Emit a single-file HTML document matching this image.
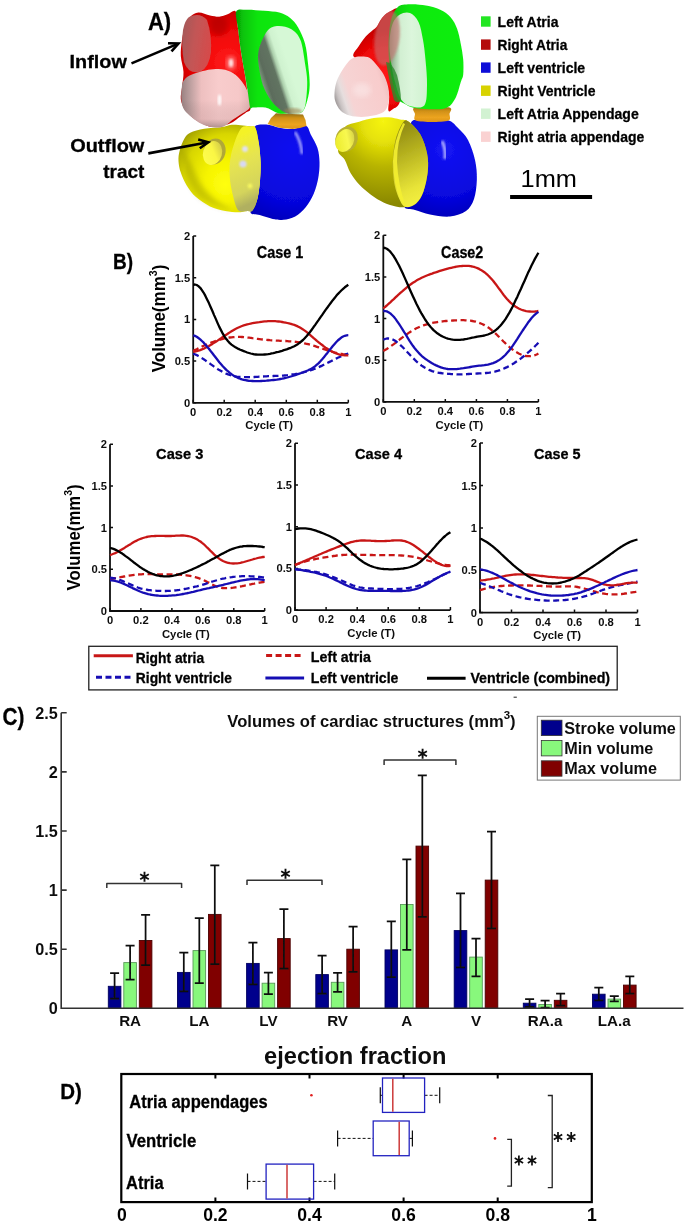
<!DOCTYPE html>
<html><head><meta charset="utf-8"><style>
html,body{margin:0;padding:0;background:#fff;}
body{width:685px;height:1225px;overflow:hidden;position:relative;font-family:"Liberation Sans", sans-serif;}
svg{position:absolute;left:0;top:0;}
text{font-family:"Liberation Sans", sans-serif;}
</style></head><body>
<svg width="685" height="1225" viewBox="0 0 685 1225">
<defs>
<radialGradient id="gYel1" cx="228" cy="175" r="58" fx="225" fy="185" gradientUnits="userSpaceOnUse">
 <stop offset="0" stop-color="#ffff10"/><stop offset="0.35" stop-color="#f6f400"/><stop offset="0.75" stop-color="#d8d600"/><stop offset="1" stop-color="#a09e00"/></radialGradient>
<linearGradient id="gTr1" x1="230" y1="140" x2="258" y2="200" gradientUnits="userSpaceOnUse">
 <stop offset="0" stop-color="#f4f228"/><stop offset="0.35" stop-color="#e6e450"/><stop offset="0.8" stop-color="#d4d45c"/><stop offset="1" stop-color="#b0b060"/></linearGradient>
<radialGradient id="gBlu1" cx="292" cy="150" r="75" gradientUnits="userSpaceOnUse">
 <stop offset="0" stop-color="#1010f0"/><stop offset="0.7" stop-color="#0606dc"/><stop offset="1" stop-color="#0000b8"/></radialGradient>
<linearGradient id="gOr" x1="0" y1="0" x2="0" y2="1">
 <stop offset="0" stop-color="#8a6a18"/><stop offset="0.3" stop-color="#d09018"/><stop offset="0.7" stop-color="#eca420"/><stop offset="1" stop-color="#dc9418"/></linearGradient>
<radialGradient id="gRed1" cx="228" cy="62" r="52" gradientUnits="userSpaceOnUse">
 <stop offset="0" stop-color="#ff1a1a"/><stop offset="0.55" stop-color="#f00808"/><stop offset="1" stop-color="#c80000"/></radialGradient>
<radialGradient id="gRed2" cx="385" cy="75" r="45" gradientUnits="userSpaceOnUse">
 <stop offset="0" stop-color="#ff1a1a"/><stop offset="0.6" stop-color="#f00808"/><stop offset="1" stop-color="#c80000"/></radialGradient>
<linearGradient id="gDark1" x1="0" y1="0" x2="1" y2="0.3">
 <stop offset="0" stop-color="#a05a5a"/><stop offset="0.5" stop-color="#c25656"/><stop offset="1" stop-color="#d44c4c"/></linearGradient>
<linearGradient id="gPink1" x1="181" y1="0" x2="249" y2="0" gradientUnits="userSpaceOnUse">
 <stop offset="0" stop-color="#988080"/><stop offset="0.12" stop-color="#b89c9c"/><stop offset="0.3" stop-color="#eec0c0"/><stop offset="0.55" stop-color="#f8cccc"/><stop offset="0.85" stop-color="#f6c8c8"/><stop offset="1" stop-color="#e4b4b4"/></linearGradient>
<linearGradient id="gPinkB" x1="0" y1="100" x2="0" y2="127" gradientUnits="userSpaceOnUse">
 <stop offset="0" stop-color="#000" stop-opacity="0"/><stop offset="0.7" stop-color="#806060" stop-opacity="0.12"/><stop offset="1" stop-color="#605050" stop-opacity="0.45"/></linearGradient>
<linearGradient id="gGrn1" x1="0" y1="0" x2="1" y2="0">
 <stop offset="0" stop-color="#04a004"/><stop offset="0.1" stop-color="#08c408"/><stop offset="0.3" stop-color="#10e410"/><stop offset="1" stop-color="#10f010"/></linearGradient>
<linearGradient id="gLg1" x1="262" y1="80" x2="290.5" y2="70.6" gradientUnits="userSpaceOnUse">
 <stop offset="0" stop-color="#7a907a"/><stop offset="0.15" stop-color="#5c6c5c"/><stop offset="0.5" stop-color="#627462"/><stop offset="0.62" stop-color="#accfac"/><stop offset="0.74" stop-color="#cff2cf"/><stop offset="1" stop-color="#d6f8d6"/></linearGradient>
<radialGradient id="gYel2" cx="385" cy="126" r="78" fx="383" fy="121" gradientUnits="userSpaceOnUse">
 <stop offset="0" stop-color="#f6f412"/><stop offset="0.25" stop-color="#e6e208"/><stop offset="0.55" stop-color="#b8b400"/><stop offset="1" stop-color="#8a8800"/></radialGradient>
<linearGradient id="gTr2" x1="392" y1="125" x2="428" y2="200" gradientUnits="userSpaceOnUse">
 <stop offset="0" stop-color="#8a8410"/><stop offset="0.4" stop-color="#b8b420"/><stop offset="0.8" stop-color="#e8e438"/><stop offset="1" stop-color="#f4f040"/></linearGradient>
<radialGradient id="gBlu2" cx="445" cy="150" r="70" gradientUnits="userSpaceOnUse">
 <stop offset="0" stop-color="#1414f4"/><stop offset="0.7" stop-color="#0606dc"/><stop offset="1" stop-color="#0000b8"/></radialGradient>
<linearGradient id="gPink2" x1="335" y1="100" x2="389" y2="82" gradientUnits="userSpaceOnUse">
 <stop offset="0" stop-color="#a09a9a"/><stop offset="0.07" stop-color="#c8c2c2"/><stop offset="0.16" stop-color="#e6dede"/><stop offset="0.28" stop-color="#f6d4d4"/><stop offset="0.85" stop-color="#f8cccc"/><stop offset="1" stop-color="#eebcbc"/></linearGradient>
<linearGradient id="gGrn2" x1="0" y1="0" x2="1" y2="0">
 <stop offset="0" stop-color="#06a006"/><stop offset="0.12" stop-color="#0cd00c"/><stop offset="0.3" stop-color="#10ea10"/><stop offset="1" stop-color="#10ee10"/></linearGradient>
<linearGradient id="gLg2" x1="389" y1="0" x2="427" y2="0" gradientUnits="userSpaceOnUse">
 <stop offset="0" stop-color="#78a078"/><stop offset="0.14" stop-color="#a4c6a4"/><stop offset="0.3" stop-color="#d2efd2"/><stop offset="0.6" stop-color="#dcf6dc"/><stop offset="1" stop-color="#d0f2d0"/></linearGradient>
<linearGradient id="gOt" x1="0" y1="1" x2="1" y2="0">
 <stop offset="0" stop-color="#ffff50"/><stop offset="0.55" stop-color="#faf644"/><stop offset="1" stop-color="#c4bc48"/></linearGradient>
<linearGradient id="gOt2" x1="0" y1="1" x2="1" y2="0">
 <stop offset="0" stop-color="#e8e820"/><stop offset="0.6" stop-color="#f8f850"/><stop offset="1" stop-color="#c8c040"/></linearGradient>
<filter id="blur1"><feGaussianBlur stdDeviation="1.2"/></filter>
<filter id="blur2"><feGaussianBlur stdDeviation="2.5"/></filter>
<filter id="blur3"><feGaussianBlur stdDeviation="4"/></filter>
</defs>
<defs><filter id="soft" x="0" y="0" width="685" height="1225" filterUnits="userSpaceOnUse"><feGaussianBlur stdDeviation="0.45"/></filter></defs>
<g filter="url(#soft)">
<path d="M254.5,127.1 C255.8,124.0 262.2,124.4 266.3,124.5 C270.4,124.6 275.0,127.0 279.4,127.7 C283.8,128.4 288.2,129.3 292.6,129.0 C297.0,128.7 302.6,124.8 305.7,125.8 C308.8,126.8 309.0,131.3 311.0,135.0 C313.0,138.7 316.1,143.5 317.5,148.1 C318.9,152.7 319.4,157.6 319.5,162.6 C319.6,167.6 319.2,173.1 318.2,178.3 C317.2,183.6 315.7,189.3 313.6,194.1 C311.5,198.9 308.8,203.5 305.7,207.2 C302.6,210.9 298.9,214.3 295.2,216.4 C291.5,218.5 287.1,219.3 283.4,219.7 C279.7,220.1 276.8,219.8 272.8,219.0 C268.9,218.2 263.4,216.2 259.7,215.1 C256.0,214.0 250.9,215.1 250.5,212.5 C250.1,209.9 255.6,204.3 257.1,199.3 C258.6,194.3 259.1,188.4 259.7,182.3 C260.2,176.2 260.6,169.2 260.4,162.6 C260.2,156.0 259.4,148.7 258.4,142.8 C257.4,136.9 253.2,130.2 254.5,127.1Z" fill="url(#gBlu1)" />
<path d="M295,132 Q301,141 302,154" stroke="#b4b4ff" stroke-width="2.6" fill="none" opacity="0.9" filter="url(#blur1)"/>
<path d="M190.2,132.8 C193.5,131.2 198.9,129.8 204.2,128.8 C209.4,127.8 216.8,127.7 221.7,127.0 C226.6,126.3 228.5,124.8 233.4,124.7 C238.3,124.6 247.2,125.9 250.9,126.4 C254.6,127.0 254.2,125.3 255.5,128.0 C256.8,130.7 257.9,137.0 258.8,142.8 C259.7,148.6 260.4,156.0 260.6,162.6 C260.8,169.2 260.4,176.2 259.9,182.3 C259.3,188.4 258.5,194.6 257.3,199.3 C256.1,204.0 254.2,208.6 252.5,210.5 C250.8,212.4 249.8,210.7 247.4,211.0 C245.0,211.3 241.7,212.3 238.0,212.3 C234.3,212.3 229.9,212.1 225.2,211.1 C220.5,210.1 214.9,208.7 210.0,206.4 C205.1,204.1 199.9,200.6 196.0,197.1 C192.1,193.6 189.2,189.5 186.7,185.4 C184.2,181.3 182.2,176.7 180.8,172.6 C179.4,168.5 178.7,164.6 178.5,160.9 C178.3,157.2 178.7,154.1 179.7,150.4 C180.7,146.7 182.6,141.6 184.3,138.7 C186.1,135.8 186.9,134.5 190.2,132.8Z" fill="url(#gYel1)" />
<path d="M183,150 Q182,180 200,198 Q215,208 232,210 Q205,196 196,175 Q190,160 183,150Z" fill="#8a8800" opacity="0.35" filter="url(#blur2)"/>
<path d="M240.4,129.3 C243.7,124.5 248.4,126.6 250.9,126.4 C253.4,126.2 254.2,125.3 255.5,128.0 C256.8,130.7 257.9,137.0 258.8,142.8 C259.7,148.6 260.4,156.0 260.6,162.6 C260.8,169.2 260.4,176.2 259.9,182.3 C259.3,188.4 258.5,194.6 257.3,199.3 C256.1,204.0 254.2,208.6 252.5,210.5 C250.8,212.4 249.6,210.9 247.4,211.0 C245.2,211.1 241.3,212.5 239.2,211.0 C237.1,209.5 236.1,207.2 234.6,201.8 C233.1,196.4 230.5,186.2 229.9,178.4 C229.3,170.6 229.2,163.2 231.0,155.0 C232.8,146.8 237.1,134.1 240.4,129.3Z" fill="url(#gTr1)" />
<g filter="url(#blur1)" opacity="0.95"><circle cx="245" cy="149" r="3" fill="#e0e0ff"/><circle cx="243" cy="164" r="3.6" fill="#d8d8ff"/><circle cx="250" cy="186" r="2.4" fill="#f8f860"/></g>
<ellipse cx="214.5" cy="151.5" rx="11" ry="13.2" transform="rotate(15 214.5 151.5)" fill="#b0a838"/>
<ellipse cx="212.5" cy="153" rx="9.5" ry="12.2" transform="rotate(15 212.5 153)" fill="url(#gOt)"/>
<path d="M276,113.2 L303,114.5 L305.5,120 L306.5,126 Q299,129 292.6,129 L279.4,127.7 L267.6,124 L271,118 Z" fill="url(#gOr)"/>
<path d="M190.2,16.7 C192.3,14.8 195.1,12.8 198.4,12.6 C201.7,12.4 206.5,14.8 210.0,15.5 C213.5,16.2 216.5,16.9 219.4,16.7 C222.3,16.5 224.9,15.2 227.6,14.3 C230.3,13.4 234.0,9.1 235.7,11.4 C237.4,13.8 237.1,21.7 238.0,28.4 C238.9,35.1 239.8,43.9 241.0,51.7 C242.2,59.5 243.9,68.3 245.0,75.0 C246.1,81.7 246.6,86.4 247.5,92.0 C248.4,97.6 250.8,105.1 250.5,108.5 C250.2,111.9 247.7,111.2 246.0,112.5 C244.3,113.8 243.1,114.6 240.4,116.4 C237.7,118.2 234.4,121.7 229.9,123.4 C225.4,125.2 217.8,126.7 213.5,126.9 C209.2,127.1 207.7,126.1 204.2,124.6 C200.7,123.0 195.8,120.3 192.5,117.6 C189.2,114.9 186.2,111.3 184.3,108.2 C182.4,105.1 181.2,102.4 180.8,98.9 C180.4,95.4 181.6,91.7 182.0,87.2 C182.4,82.7 183.7,77.2 183.5,72.0 C183.3,66.8 181.1,61.3 180.8,56.0 C180.6,50.7 181.2,45.4 182.0,40.0 C182.8,34.6 184.1,27.6 185.5,23.7 C186.9,19.8 188.0,18.6 190.2,16.7Z" fill="url(#gRed1)" />
<clipPath id="cR1"><path d="M190.2,16.7 C192.3,14.8 195.1,12.8 198.4,12.6 C201.7,12.4 206.5,14.8 210.0,15.5 C213.5,16.2 216.5,16.9 219.4,16.7 C222.3,16.5 224.9,15.2 227.6,14.3 C230.3,13.4 234.0,9.1 235.7,11.4 C237.4,13.8 237.1,21.7 238.0,28.4 C238.9,35.1 239.8,43.9 241.0,51.7 C242.2,59.5 243.9,68.3 245.0,75.0 C246.1,81.7 246.6,86.4 247.5,92.0 C248.4,97.6 250.8,105.1 250.5,108.5 C250.2,111.9 247.7,111.2 246.0,112.5 C244.3,113.8 243.1,114.6 240.4,116.4 C237.7,118.2 234.4,121.7 229.9,123.4 C225.4,125.2 217.8,126.7 213.5,126.9 C209.2,127.1 207.7,126.1 204.2,124.6 C200.7,123.0 195.8,120.3 192.5,117.6 C189.2,114.9 186.2,111.3 184.3,108.2 C182.4,105.1 181.2,102.4 180.8,98.9 C180.4,95.4 181.6,91.7 182.0,87.2 C182.4,82.7 183.7,77.2 183.5,72.0 C183.3,66.8 181.1,61.3 180.8,56.0 C180.6,50.7 181.2,45.4 182.0,40.0 C182.8,34.6 184.1,27.6 185.5,23.7 C186.9,19.8 188.0,18.6 190.2,16.7Z"/></clipPath>
<g clip-path="url(#cR1)"><ellipse cx="219" cy="26" rx="9" ry="10" fill="#a80000" opacity="0.55" filter="url(#blur2)"/></g>
<path d="M189,17 Q200,12 207,20 Q212,35 211,52 Q209,68 200,72 Q188,74 184,62 Q181,45 183,30 Q185,20 189,17Z" fill="url(#gDark1)"/>
<g clip-path="url(#cR1)"><ellipse cx="231" cy="63" rx="4.5" ry="7" fill="#ffb0b0" opacity="0.7" filter="url(#blur2)"/><ellipse cx="231" cy="63" rx="2" ry="4" fill="#fff" opacity="0.8" filter="url(#blur1)"/></g>
<path d="M181.8,88.0 C182.1,85.4 181.8,83.6 183.1,81.5 C184.4,79.4 186.4,77.2 189.7,75.5 C193.0,73.8 198.9,72.0 202.8,71.0 C206.8,70.0 209.7,69.4 213.4,69.2 C217.1,69.0 221.5,68.8 225.2,69.8 C228.9,70.8 232.6,72.5 235.7,74.9 C238.8,77.3 241.4,80.7 243.6,84.0 C245.8,87.3 247.7,91.3 248.8,94.6 C249.9,97.9 250.1,101.4 250.1,103.8 C250.1,106.2 250.3,107.2 248.8,109.0 C247.3,110.8 243.6,112.5 241.0,114.3 C238.4,116.1 235.4,117.8 233.0,119.6 C230.6,121.3 228.7,123.5 226.5,124.8 C224.3,126.1 222.8,127.1 220.0,127.4 C217.2,127.7 212.9,127.2 209.4,126.4 C205.9,125.6 202.2,124.2 198.9,122.4 C195.6,120.6 192.3,118.0 189.7,115.6 C187.1,113.1 184.5,110.8 183.1,107.7 C181.7,104.6 181.4,100.5 181.2,97.2 C181.0,93.9 181.5,90.6 181.8,88.0Z" fill="url(#gPink1)" />
<path d="M181.8,88.0 C182.1,85.4 181.8,83.6 183.1,81.5 C184.4,79.4 186.4,77.2 189.7,75.5 C193.0,73.8 198.9,72.0 202.8,71.0 C206.8,70.0 209.7,69.4 213.4,69.2 C217.1,69.0 221.5,68.8 225.2,69.8 C228.9,70.8 232.6,72.5 235.7,74.9 C238.8,77.3 241.4,80.7 243.6,84.0 C245.8,87.3 247.7,91.3 248.8,94.6 C249.9,97.9 250.1,101.4 250.1,103.8 C250.1,106.2 250.3,107.2 248.8,109.0 C247.3,110.8 243.6,112.5 241.0,114.3 C238.4,116.1 235.4,117.8 233.0,119.6 C230.6,121.3 228.7,123.5 226.5,124.8 C224.3,126.1 222.8,127.1 220.0,127.4 C217.2,127.7 212.9,127.2 209.4,126.4 C205.9,125.6 202.2,124.2 198.9,122.4 C195.6,120.6 192.3,118.0 189.7,115.6 C187.1,113.1 184.5,110.8 183.1,107.7 C181.7,104.6 181.4,100.5 181.2,97.2 C181.0,93.9 181.5,90.6 181.8,88.0Z" fill="url(#gPinkB)" />
<ellipse cx="219.5" cy="100" rx="1.8" ry="5.5" fill="#fff" opacity="0.9" filter="url(#blur1)"/>
<path d="M236.2,11.4 C237.6,8.3 242.0,9.8 246.7,9.7 C251.4,9.6 258.8,10.3 264.2,10.8 C269.6,11.3 275.1,11.4 279.4,12.6 C283.7,13.8 286.8,15.4 289.9,17.8 C293.0,20.2 295.5,22.9 298.0,27.2 C300.5,31.5 303.3,37.5 305.0,43.5 C306.7,49.5 307.2,56.5 308.0,63.4 C308.8,70.3 309.8,78.9 309.7,85.0 C309.6,91.1 308.7,95.5 307.4,100.0 C306.1,104.5 304.9,109.8 302.0,112.0 C299.1,114.2 294.0,113.1 290.0,113.3 C286.0,113.5 282.3,114.2 278.2,113.2 C274.1,112.2 269.7,108.5 265.4,107.6 C261.1,106.7 255.0,107.4 252.5,107.6 C250.0,107.8 251.1,111.4 250.3,108.5 C249.5,105.6 248.4,95.6 247.5,90.0 C246.6,84.4 246.1,81.4 245.0,75.0 C243.9,68.6 242.2,59.5 241.0,51.7 C239.8,43.9 238.8,35.1 238.0,28.4 C237.2,21.7 234.8,14.5 236.2,11.4Z" fill="url(#gGrn1)" />
<path d="M277.0,26.0 C272.9,26.5 269.6,27.6 266.5,31.9 C263.4,36.2 259.6,45.3 258.4,51.7 C257.2,58.1 258.6,64.4 259.5,70.4 C260.4,76.5 261.8,82.6 264.0,88.0 C266.2,93.4 269.7,99.0 273.0,103.0 C276.3,107.0 280.7,110.2 284.0,112.0 C287.3,113.8 290.1,114.0 293.0,114.0 C295.9,114.0 299.5,113.7 301.6,112.0 C303.7,110.3 304.6,109.0 305.5,104.0 C306.4,99.0 307.3,88.5 307.2,81.7 C307.1,74.9 306.1,70.3 305.0,63.4 C303.9,56.4 302.7,45.7 300.4,40.0 C298.1,34.3 294.9,31.3 291.0,29.0 C287.1,26.7 281.1,25.5 277.0,26.0Z" fill="url(#gLg1)" />
<ellipse cx="293" cy="111" rx="9" ry="3" fill="#a08858" opacity="0.6" filter="url(#blur1)"/>
<path d="M411.7,121.5 C414.7,118.1 423.9,119.7 430.0,119.5 C436.1,119.3 443.8,119.1 448.5,120.5 C453.2,121.9 454.8,124.8 458.0,128.0 C461.2,131.2 465.2,134.7 468.0,140.0 C470.8,145.3 473.5,153.3 475.0,160.0 C476.5,166.7 477.0,173.5 476.8,180.0 C476.6,186.5 475.8,193.8 474.0,199.0 C472.2,204.2 470.0,208.1 466.0,211.0 C462.0,213.9 456.0,215.9 450.0,216.5 C444.0,217.1 435.8,215.6 430.0,214.5 C424.2,213.4 419.3,211.3 415.0,210.0 C410.7,208.7 405.2,210.1 404.4,206.8 C403.6,203.5 408.4,197.0 410.0,190.0 C411.6,183.0 413.7,173.3 414.0,165.0 C414.3,156.7 412.4,147.2 412.0,140.0 C411.6,132.8 408.7,124.9 411.7,121.5Z" fill="url(#gBlu2)" />
<path d="M442,141 Q446,149 445,159" stroke="#c0c0ff" stroke-width="3" fill="none" opacity="0.9" filter="url(#blur1)"/>
<path d="M338.0,150.0 C337.9,144.7 340.5,132.7 344.0,128.0 C347.5,123.3 354.2,123.4 359.2,121.7 C364.2,120.0 368.9,118.7 373.8,118.0 C378.7,117.3 384.0,117.0 388.4,117.3 C392.8,117.5 396.6,118.8 400.0,119.5 C403.4,120.2 405.4,119.2 408.8,121.7 C412.2,124.2 417.4,129.5 420.5,134.8 C423.6,140.2 425.9,147.7 427.1,153.8 C428.3,159.9 428.4,165.0 427.8,171.3 C427.2,177.6 425.3,186.5 423.4,191.8 C421.4,197.2 419.0,200.9 416.1,203.4 C413.2,205.9 409.3,206.6 405.9,207.1 C402.5,207.6 399.3,207.1 395.7,206.4 C392.1,205.7 388.1,204.6 384.0,202.7 C379.9,200.8 375.0,197.7 370.9,194.7 C366.8,191.7 362.6,188.2 359.2,184.5 C355.8,180.8 352.8,177.0 350.4,172.8 C348.0,168.7 346.7,163.4 344.6,159.6 C342.5,155.8 338.1,155.3 338.0,150.0Z" fill="url(#gYel2)" />
<path d="M403.0,122.4 C405.2,119.5 405.9,119.6 408.8,121.7 C411.7,123.8 417.4,129.5 420.5,134.8 C423.6,140.2 425.9,147.7 427.1,153.8 C428.3,159.9 428.4,165.0 427.8,171.3 C427.2,177.6 425.3,186.5 423.4,191.8 C421.4,197.2 419.0,200.9 416.1,203.4 C413.2,205.9 408.6,207.6 405.9,207.1 C403.2,206.6 401.9,204.5 400.0,200.5 C398.1,196.5 395.4,189.6 394.2,183.0 C393.0,176.4 392.6,168.4 392.8,161.1 C393.1,153.8 394.0,145.6 395.7,139.2 C397.4,132.8 400.8,125.3 403.0,122.4Z" fill="url(#gTr2)" />
<path d="M403,123 Q394,140 393,161 Q393,184 401,201 Q405,206 406,207 Q398,185 397,162 Q397,140 405,124Z" fill="#f4f030" opacity="0.9"/>
<ellipse cx="346.5" cy="139.2" rx="11" ry="13" transform="rotate(25 346.5 139.2)" fill="#b8b030"/>
<ellipse cx="344.8" cy="140.5" rx="9" ry="11.8" transform="rotate(25 344.8 140.5)" fill="url(#gOt2)"/>
<path d="M415.8,107.2 C421.4,106.1 442.9,106.1 448.5,107.2 C454.1,108.3 449.5,111.8 449.5,114.0 C449.5,116.2 451.4,119.2 448.5,120.5 C445.6,121.8 437.4,122.0 432.0,122.0 C426.6,122.0 418.6,121.8 415.8,120.5 C413.0,119.2 415.0,116.2 415.0,114.0 C415.0,111.8 410.2,108.3 415.8,107.2Z" fill="url(#gOr)" />
<path d="M397.0,8.5 C395.8,7.8 393.8,9.5 391.8,10.5 C389.8,11.5 387.2,12.8 385.2,14.5 C383.2,16.2 381.4,18.9 380.0,21.0 C378.6,23.1 378.2,25.1 376.5,27.0 C374.8,28.9 371.8,30.9 370.0,32.5 C368.2,34.1 367.4,34.5 365.5,36.8 C363.6,39.0 360.9,42.7 358.9,46.0 C356.9,49.3 351.8,53.7 353.6,56.5 C355.5,59.3 364.9,59.1 370.0,63.0 C375.1,66.9 380.8,74.7 384.0,80.0 C387.2,85.3 388.3,89.9 389.0,95.0 C389.7,100.1 387.7,108.3 388.4,110.6 C389.1,112.9 391.1,110.3 393.0,109.0 C394.9,107.7 398.1,107.3 399.6,102.5 C401.1,97.7 401.8,90.4 402.0,80.0 C402.2,69.6 401.5,50.8 401.0,40.0 C400.5,29.2 399.7,20.2 399.0,15.0 C398.3,9.8 398.2,9.2 397.0,8.5Z" fill="url(#gRed2)" />
<path d="M397.4,7.4 C400.7,4.0 405.0,4.6 409.8,4.3 C414.6,4.0 420.8,4.7 426.0,5.6 C431.2,6.5 436.7,7.9 440.8,9.9 C444.9,11.9 448.1,14.3 450.8,17.4 C453.5,20.5 455.4,24.2 457.0,28.5 C458.6,32.8 459.7,38.2 460.7,43.4 C461.7,48.6 462.8,54.4 463.2,59.6 C463.6,64.8 463.6,70.8 463.2,74.5 C462.8,78.2 462.2,77.9 460.8,82.0 C459.4,86.1 457.7,94.6 455.0,99.0 C452.3,103.4 450.6,106.8 444.4,108.4 C438.2,110.0 424.5,109.1 417.9,108.4 C411.3,107.7 408.6,106.2 405.0,104.0 C401.4,101.8 398.7,102.3 396.0,95.0 C393.3,87.7 390.0,71.7 389.0,60.0 C388.0,48.3 388.6,33.8 390.0,25.0 C391.4,16.2 394.1,10.8 397.4,7.4Z" fill="url(#gGrn2)" />
<path d="M399.9,14.5 C402.8,12.7 406.9,11.8 410.0,13.0 C413.1,14.2 416.3,17.5 418.5,22.0 C420.7,26.5 421.8,33.7 423.0,40.0 C424.2,46.3 424.8,52.5 425.5,60.0 C426.2,67.5 427.2,77.5 427.0,85.0 C426.8,92.5 427.1,101.6 424.5,105.2 C421.9,108.8 415.5,107.4 411.7,106.5 C407.9,105.6 404.3,104.1 401.5,100.0 C398.7,95.9 396.8,88.3 395.0,82.0 C393.2,75.7 391.9,68.7 391.0,62.0 C390.1,55.3 389.2,48.3 389.5,42.0 C389.8,35.7 390.8,28.6 392.5,24.0 C394.2,19.4 397.0,16.3 399.9,14.5Z" fill="url(#gLg2)" />
<clipPath id="cRG2"><path d="M397.0,8.5 C395.8,7.8 393.8,9.5 391.8,10.5 C389.8,11.5 387.2,12.8 385.2,14.5 C383.2,16.2 381.4,18.9 380.0,21.0 C378.6,23.1 378.2,25.1 376.5,27.0 C374.8,28.9 371.8,30.9 370.0,32.5 C368.2,34.1 367.4,34.5 365.5,36.8 C363.6,39.0 360.9,42.7 358.9,46.0 C356.9,49.3 351.8,53.7 353.6,56.5 C355.5,59.3 364.9,59.1 370.0,63.0 C375.1,66.9 380.8,74.7 384.0,80.0 C387.2,85.3 388.3,89.9 389.0,95.0 C389.7,100.1 387.7,108.3 388.4,110.6 C389.1,112.9 391.1,110.3 393.0,109.0 C394.9,107.7 398.1,107.3 399.6,102.5 C401.1,97.7 401.8,90.4 402.0,80.0 C402.2,69.6 401.5,50.8 401.0,40.0 C400.5,29.2 399.7,20.2 399.0,15.0 C398.3,9.8 398.2,9.2 397.0,8.5Z"/><path d="M397.4,7.4 C400.7,4.0 405.0,4.6 409.8,4.3 C414.6,4.0 420.8,4.7 426.0,5.6 C431.2,6.5 436.7,7.9 440.8,9.9 C444.9,11.9 448.1,14.3 450.8,17.4 C453.5,20.5 455.4,24.2 457.0,28.5 C458.6,32.8 459.7,38.2 460.7,43.4 C461.7,48.6 462.8,54.4 463.2,59.6 C463.6,64.8 463.6,70.8 463.2,74.5 C462.8,78.2 462.2,77.9 460.8,82.0 C459.4,86.1 457.7,94.6 455.0,99.0 C452.3,103.4 450.6,106.8 444.4,108.4 C438.2,110.0 424.5,109.1 417.9,108.4 C411.3,107.7 408.6,106.2 405.0,104.0 C401.4,101.8 398.7,102.3 396.0,95.0 C393.3,87.7 390.0,71.7 389.0,60.0 C388.0,48.3 388.6,33.8 390.0,25.0 C391.4,16.2 394.1,10.8 397.4,7.4Z"/></clipPath>
<g clip-path="url(#cRG2)"><ellipse cx="387" cy="38" rx="12.5" ry="28" transform="rotate(8 387 38)" fill="#c87070" opacity="0.62" filter="url(#blur1)"/><path d="M386,62 Q392,62 397,75 Q401,90 401,101 Q397,104 394,100 Q390,85 386,62Z" fill="#2c8a2c" opacity="0.8"/></g>
<path d="M353.6,57.8 C355.6,56.9 357.6,56.5 360.2,56.5 C362.8,56.5 366.5,56.3 369.4,57.8 C372.2,59.3 374.9,62.9 377.3,65.7 C379.7,68.6 382.1,71.6 383.9,74.9 C385.6,78.2 386.9,81.9 387.8,85.4 C388.7,88.9 389.1,92.6 389.1,95.9 C389.1,99.2 388.7,102.5 387.8,105.1 C386.9,107.7 386.3,110.0 383.9,111.7 C381.5,113.5 377.1,114.7 373.4,115.6 C369.7,116.5 365.4,116.9 361.5,116.9 C357.6,116.9 353.2,116.7 349.7,115.6 C346.2,114.5 342.9,112.8 340.5,110.4 C338.1,108.0 336.3,104.3 335.3,101.2 C334.3,98.1 334.4,95.3 334.6,92.0 C334.8,88.7 335.4,85.0 336.6,81.5 C337.8,78.0 339.8,74.3 341.8,71.0 C343.8,67.7 346.4,64.0 348.4,61.8 C350.4,59.6 351.6,58.7 353.6,57.8Z" fill="url(#gPink2)" />
<ellipse cx="362" cy="90" rx="9" ry="7" fill="#fff" opacity="0.3" filter="url(#blur2)"/>
<text x="147.9" y="29.5" font-size="24.0" font-weight="bold" fill="#000" text-anchor="start" textLength="23.3" lengthAdjust="spacingAndGlyphs" stroke="#000" stroke-width="0.3" >A)</text>
<text x="69.6" y="67.7" font-size="19.2" font-weight="bold" fill="#000" text-anchor="start" textLength="57.2" lengthAdjust="spacingAndGlyphs" stroke="#000" stroke-width="0.3" >Inflow</text>
<text x="70.2" y="151.8" font-size="18.6" font-weight="bold" fill="#000" text-anchor="start" textLength="74.2" lengthAdjust="spacingAndGlyphs" stroke="#000" stroke-width="0.3" >Outflow</text>
<text x="103.2" y="177.8" font-size="18.6" font-weight="bold" fill="#000" text-anchor="start" textLength="41.2" lengthAdjust="spacingAndGlyphs" stroke="#000" stroke-width="0.3" >tract</text>
<path d="M131.5,63.4 L177.1,44.1" stroke="#000" stroke-width="2.6"/>
<path d="M171.5,51.3 L178.5,43.5 L168.0,43.2" stroke="#000" stroke-width="2.6" fill="none" stroke-linejoin="miter"/>
<path d="M148.3,153.4 L206.8,142.5" stroke="#000" stroke-width="2.6"/>
<path d="M199.8,148.3 L208.3,142.2 L198.2,139.6" stroke="#000" stroke-width="2.6" fill="none" stroke-linejoin="miter"/>
<rect x="481" y="16.3" width="9.6" height="10.4" fill="#22e622"/>
<text x="497.6" y="26.7" font-size="15.2" font-weight="bold" fill="#000" text-anchor="start" textLength="60.9" lengthAdjust="spacingAndGlyphs" stroke="#000" stroke-width="0.3" >Left Atria</text>
<rect x="481" y="39.4" width="9.6" height="10.4" fill="#b41010"/>
<text x="497.6" y="49.8" font-size="15.2" font-weight="bold" fill="#000" text-anchor="start" textLength="69.7" lengthAdjust="spacingAndGlyphs" stroke="#000" stroke-width="0.3" >Right Atria</text>
<rect x="481" y="62.4" width="9.6" height="10.4" fill="#1010d8"/>
<text x="497.6" y="72.8" font-size="15.2" font-weight="bold" fill="#000" text-anchor="start" textLength="87.6" lengthAdjust="spacingAndGlyphs" stroke="#000" stroke-width="0.3" >Left ventricle</text>
<rect x="481" y="85.5" width="9.6" height="10.4" fill="#d8d200"/>
<text x="497.6" y="95.9" font-size="15.2" font-weight="bold" fill="#000" text-anchor="start" textLength="97.9" lengthAdjust="spacingAndGlyphs" stroke="#000" stroke-width="0.3" >Right Ventricle</text>
<rect x="481" y="108.5" width="9.6" height="10.4" fill="#d2f2d2"/>
<text x="497.6" y="118.9" font-size="15.2" font-weight="bold" fill="#000" text-anchor="start" textLength="141.2" lengthAdjust="spacingAndGlyphs" stroke="#000" stroke-width="0.3" >Left Atria Appendage</text>
<rect x="481" y="131.5" width="9.6" height="10.4" fill="#fad2d2"/>
<text x="497.6" y="141.9" font-size="15.2" font-weight="bold" fill="#000" text-anchor="start" textLength="146.6" lengthAdjust="spacingAndGlyphs" stroke="#000" stroke-width="0.3" >Right atria appendage</text>
<text x="520.6" y="187.1" font-size="23.0" font-weight="normal" fill="#000" text-anchor="start" textLength="56.4" lengthAdjust="spacingAndGlyphs" >1mm</text>
<rect x="510.1" y="195" width="82" height="4" fill="#000"/>
<path d="M193.2,236.0 L193.2,402.8 L348.3,402.8" fill="none" stroke="#111" stroke-width="1.8"/>
<path d="M193.2,402.8 v-3 M224.2,402.8 v-3 M255.2,402.8 v-3 M286.3,402.8 v-3 M317.3,402.8 v-3 M348.3,402.8 v-3 M193.2,402.8 h3 M193.2,361.1 h3 M193.2,319.4 h3 M193.2,277.7 h3 M193.2,236.0 h3 " stroke="#111" stroke-width="1.5"/>
<text x="193.2" y="415.9" font-size="11.2" font-weight="bold" fill="#111" text-anchor="middle" >0</text>
<text x="224.2" y="415.9" font-size="11.2" font-weight="bold" fill="#111" text-anchor="middle" >0.2</text>
<text x="255.2" y="415.9" font-size="11.2" font-weight="bold" fill="#111" text-anchor="middle" >0.4</text>
<text x="286.3" y="415.9" font-size="11.2" font-weight="bold" fill="#111" text-anchor="middle" >0.6</text>
<text x="317.3" y="415.9" font-size="11.2" font-weight="bold" fill="#111" text-anchor="middle" >0.8</text>
<text x="348.3" y="415.9" font-size="11.2" font-weight="bold" fill="#111" text-anchor="middle" >1</text>
<text x="190.2" y="406.8" font-size="11.2" font-weight="bold" fill="#111" text-anchor="end" >0</text>
<text x="190.2" y="365.1" font-size="11.2" font-weight="bold" fill="#111" text-anchor="end" >0.5</text>
<text x="190.2" y="323.4" font-size="11.2" font-weight="bold" fill="#111" text-anchor="end" >1</text>
<text x="190.2" y="281.7" font-size="11.2" font-weight="bold" fill="#111" text-anchor="end" >1.5</text>
<text x="190.2" y="240.0" font-size="11.2" font-weight="bold" fill="#111" text-anchor="end" >2</text>
<text x="269.2" y="429.4" font-size="11.3" font-weight="bold" fill="#111" text-anchor="middle" >Cycle (T)</text>
<text x="280.0" y="257.8" font-size="16.0" font-weight="bold" fill="#000" text-anchor="middle" textLength="46.5" lengthAdjust="spacingAndGlyphs" stroke="#000" stroke-width="0.3" >Case 1</text>
<text transform="translate(165.0,318.5) rotate(-90)" x="0" y="0" font-size="17.6" font-weight="bold" text-anchor="middle" textLength="107.7" lengthAdjust="spacingAndGlyphs">Volume(mm<tspan font-size="11" dy="-8">3</tspan><tspan dy="8">)</tspan></text>
<path d="M193.2,351.1 L194.9,350.1 L196.7,349.2 L198.4,348.3 L200.2,347.5 L201.9,346.6 L203.7,345.8 L205.4,345.0 L207.1,344.2 L208.9,343.5 L210.6,342.8 L212.4,342.2 L214.1,341.5 L215.9,340.9 L217.6,340.4 L219.3,339.8 L221.1,339.4 L222.8,338.9 L224.6,338.5 L226.3,338.1 L228.1,337.8 L229.8,337.5 L231.5,337.3 L233.3,337.1 L235.0,337.0 L236.8,336.9 L238.5,336.9 L240.3,336.9 L242.0,337.0 L243.7,337.1 L245.5,337.3 L247.2,337.5 L249.0,337.7 L250.7,337.9 L252.5,338.2 L254.2,338.4 L255.9,338.7 L257.7,338.9 L259.4,339.1 L261.2,339.3 L262.9,339.5 L264.7,339.7 L266.4,339.9 L268.1,340.0 L269.9,340.2 L271.6,340.3 L273.4,340.4 L275.1,340.5 L276.8,340.6 L278.6,340.7 L280.3,340.8 L282.1,340.9 L283.8,341.0 L285.6,341.0 L287.3,341.1 L289.0,341.3 L290.8,341.4 L292.5,341.5 L294.3,341.7 L296.0,341.9 L297.8,342.1 L299.5,342.4 L301.2,342.7 L303.0,343.0 L304.7,343.4 L306.5,343.8 L308.2,344.2 L310.0,344.7 L311.7,345.2 L313.4,345.7 L315.2,346.2 L316.9,346.8 L318.7,347.4 L320.4,348.0 L322.2,348.6 L323.9,349.1 L325.6,349.7 L327.4,350.3 L329.1,350.8 L330.9,351.4 L332.6,351.9 L334.4,352.4 L336.1,352.8 L337.8,353.2 L339.6,353.5 L341.3,353.8 L343.1,354.1 L344.8,354.3 L346.6,354.4 L348.3,354.4" fill="none" stroke="#c81818" stroke-width="2.3" stroke-dasharray="6,3.5" stroke-linejoin="round"/>
<path d="M193.2,353.6 L194.9,354.3 L196.7,355.1 L198.4,356.1 L200.2,357.1 L201.9,358.1 L203.7,359.3 L205.4,360.4 L207.1,361.7 L208.9,362.9 L210.6,364.1 L212.4,365.4 L214.1,366.6 L215.9,367.8 L217.6,369.0 L219.3,370.1 L221.1,371.1 L222.8,372.1 L224.6,372.9 L226.3,373.7 L228.1,374.4 L229.8,375.0 L231.5,375.5 L233.3,375.9 L235.0,376.3 L236.8,376.6 L238.5,376.8 L240.3,377.0 L242.0,377.1 L243.7,377.2 L245.5,377.2 L247.2,377.2 L249.0,377.2 L250.7,377.2 L252.5,377.1 L254.2,377.0 L255.9,376.9 L257.7,376.8 L259.4,376.7 L261.2,376.6 L262.9,376.5 L264.7,376.4 L266.4,376.3 L268.1,376.2 L269.9,376.2 L271.6,376.1 L273.4,376.0 L275.1,375.9 L276.8,375.9 L278.6,375.8 L280.3,375.7 L282.1,375.6 L283.8,375.5 L285.6,375.3 L287.3,375.2 L289.0,375.0 L290.8,374.8 L292.5,374.5 L294.3,374.3 L296.0,374.0 L297.8,373.6 L299.5,373.3 L301.2,372.9 L303.0,372.5 L304.7,372.0 L306.5,371.6 L308.2,371.0 L310.0,370.5 L311.7,369.9 L313.4,369.3 L315.2,368.6 L316.9,367.9 L318.7,367.2 L320.4,366.4 L322.2,365.6 L323.9,364.7 L325.6,363.9 L327.4,363.0 L329.1,362.1 L330.9,361.2 L332.6,360.4 L334.4,359.5 L336.1,358.6 L337.8,357.8 L339.6,357.0 L341.3,356.2 L343.1,355.5 L344.8,354.8 L346.6,354.2 L348.3,353.6" fill="none" stroke="#1810b4" stroke-width="2.3" stroke-dasharray="6,3.5" stroke-linejoin="round"/>
<path d="M193.2,351.9 L194.9,351.6 L196.7,351.2 L198.4,350.7 L200.2,350.1 L201.9,349.4 L203.7,348.7 L205.4,347.8 L207.1,346.9 L208.9,346.0 L210.6,345.0 L212.4,343.9 L214.1,342.8 L215.9,341.7 L217.6,340.6 L219.3,339.4 L221.1,338.2 L222.8,337.0 L224.6,335.8 L226.3,334.7 L228.1,333.5 L229.8,332.4 L231.5,331.3 L233.3,330.2 L235.0,329.2 L236.8,328.3 L238.5,327.5 L240.3,326.7 L242.0,326.0 L243.7,325.4 L245.5,324.9 L247.2,324.4 L249.0,324.0 L250.7,323.6 L252.5,323.2 L254.2,322.9 L255.9,322.6 L257.7,322.3 L259.4,322.1 L261.2,321.8 L262.9,321.6 L264.7,321.4 L266.4,321.3 L268.1,321.1 L269.9,321.1 L271.6,321.1 L273.4,321.1 L275.1,321.2 L276.8,321.3 L278.6,321.5 L280.3,321.7 L282.1,322.0 L283.8,322.3 L285.6,322.6 L287.3,323.0 L289.0,323.4 L290.8,323.8 L292.5,324.4 L294.3,324.9 L296.0,325.6 L297.8,326.4 L299.5,327.3 L301.2,328.3 L303.0,329.4 L304.7,330.6 L306.5,331.9 L308.2,333.3 L310.0,334.8 L311.7,336.3 L313.4,337.8 L315.2,339.3 L316.9,340.8 L318.7,342.3 L320.4,343.7 L322.2,345.0 L323.9,346.4 L325.6,347.6 L327.4,348.8 L329.1,349.9 L330.9,350.9 L332.6,351.8 L334.4,352.7 L336.1,353.4 L337.8,354.0 L339.6,354.6 L341.3,355.0 L343.1,355.2 L344.8,355.4 L346.6,355.4 L348.3,355.3" fill="none" stroke="#c81818" stroke-width="2.3" stroke-linejoin="round"/>
<path d="M193.2,335.2 L194.9,335.9 L196.7,336.8 L198.4,338.0 L200.2,339.4 L201.9,341.0 L203.7,342.7 L205.4,344.7 L207.1,346.7 L208.9,348.8 L210.6,351.0 L212.4,353.2 L214.1,355.5 L215.9,357.8 L217.6,360.0 L219.3,362.2 L221.1,364.3 L222.8,366.3 L224.6,368.1 L226.3,369.9 L228.1,371.4 L229.8,372.9 L231.5,374.2 L233.3,375.4 L235.0,376.4 L236.8,377.3 L238.5,378.1 L240.3,378.8 L242.0,379.4 L243.7,379.9 L245.5,380.2 L247.2,380.5 L249.0,380.8 L250.7,380.9 L252.5,381.0 L254.2,381.1 L255.9,381.1 L257.7,381.1 L259.4,381.1 L261.2,381.0 L262.9,380.9 L264.7,380.8 L266.4,380.7 L268.1,380.5 L269.9,380.4 L271.6,380.2 L273.4,380.0 L275.1,379.8 L276.8,379.6 L278.6,379.3 L280.3,379.0 L282.1,378.7 L283.8,378.3 L285.6,377.9 L287.3,377.5 L289.0,377.0 L290.8,376.5 L292.5,376.0 L294.3,375.4 L296.0,374.8 L297.8,374.2 L299.5,373.6 L301.2,373.0 L303.0,372.3 L304.7,371.7 L306.5,371.0 L308.2,370.3 L310.0,369.4 L311.7,368.5 L313.4,367.4 L315.2,366.2 L316.9,364.7 L318.7,363.1 L320.4,361.3 L322.2,359.3 L323.9,357.3 L325.6,355.1 L327.4,352.9 L329.1,350.6 L330.9,348.4 L332.6,346.3 L334.4,344.2 L336.1,342.3 L337.8,340.5 L339.6,339.0 L341.3,337.6 L343.1,336.5 L344.8,335.8 L346.6,335.3 L348.3,335.2" fill="none" stroke="#1810b4" stroke-width="2.3" stroke-linejoin="round"/>
<path d="M193.2,284.8 L194.9,284.5 L196.7,285.0 L198.4,286.1 L200.2,287.8 L201.9,290.1 L203.7,292.8 L205.4,295.9 L207.1,299.4 L208.9,303.1 L210.6,307.0 L212.4,311.0 L214.1,315.1 L215.9,319.1 L217.6,323.1 L219.3,326.9 L221.1,330.4 L222.8,333.7 L224.6,336.6 L226.3,339.1 L228.1,341.3 L229.8,343.1 L231.5,344.6 L233.3,345.9 L235.0,347.0 L236.8,348.0 L238.5,348.9 L240.3,349.7 L242.0,350.4 L243.7,351.1 L245.5,351.8 L247.2,352.5 L249.0,353.0 L250.7,353.5 L252.5,353.9 L254.2,354.3 L255.9,354.5 L257.7,354.7 L259.4,354.7 L261.2,354.7 L262.9,354.7 L264.7,354.5 L266.4,354.3 L268.1,354.1 L269.9,353.8 L271.6,353.4 L273.4,353.1 L275.1,352.7 L276.8,352.2 L278.6,351.8 L280.3,351.3 L282.1,350.8 L283.8,350.2 L285.6,349.7 L287.3,349.1 L289.0,348.4 L290.8,347.8 L292.5,347.0 L294.3,346.2 L296.0,345.2 L297.8,344.2 L299.5,342.9 L301.2,341.5 L303.0,340.0 L304.7,338.2 L306.5,336.3 L308.2,334.2 L310.0,332.0 L311.7,329.7 L313.4,327.3 L315.2,324.9 L316.9,322.4 L318.7,319.9 L320.4,317.4 L322.2,314.9 L323.9,312.4 L325.6,309.9 L327.4,307.5 L329.1,305.1 L330.9,302.7 L332.6,300.4 L334.4,298.2 L336.1,296.1 L337.8,294.1 L339.6,292.2 L341.3,290.5 L343.1,288.8 L344.8,287.3 L346.6,286.0 L348.3,284.8" fill="none" stroke="#000" stroke-width="2.3" stroke-linejoin="round"/>
<path d="M383.3,235.2 L383.3,401.9 L538.4,401.9" fill="none" stroke="#111" stroke-width="1.8"/>
<path d="M383.3,401.9 v-3 M414.3,401.9 v-3 M445.3,401.9 v-3 M476.4,401.9 v-3 M507.4,401.9 v-3 M538.4,401.9 v-3 M383.3,401.9 h3 M383.3,360.2 h3 M383.3,318.5 h3 M383.3,276.9 h3 M383.3,235.2 h3 " stroke="#111" stroke-width="1.5"/>
<text x="383.3" y="415.0" font-size="11.2" font-weight="bold" fill="#111" text-anchor="middle" >0</text>
<text x="414.3" y="415.0" font-size="11.2" font-weight="bold" fill="#111" text-anchor="middle" >0.2</text>
<text x="445.3" y="415.0" font-size="11.2" font-weight="bold" fill="#111" text-anchor="middle" >0.4</text>
<text x="476.4" y="415.0" font-size="11.2" font-weight="bold" fill="#111" text-anchor="middle" >0.6</text>
<text x="507.4" y="415.0" font-size="11.2" font-weight="bold" fill="#111" text-anchor="middle" >0.8</text>
<text x="538.4" y="415.0" font-size="11.2" font-weight="bold" fill="#111" text-anchor="middle" >1</text>
<text x="380.3" y="405.9" font-size="11.2" font-weight="bold" fill="#111" text-anchor="end" >0</text>
<text x="380.3" y="364.2" font-size="11.2" font-weight="bold" fill="#111" text-anchor="end" >0.5</text>
<text x="380.3" y="322.5" font-size="11.2" font-weight="bold" fill="#111" text-anchor="end" >1</text>
<text x="380.3" y="280.9" font-size="11.2" font-weight="bold" fill="#111" text-anchor="end" >1.5</text>
<text x="380.3" y="239.2" font-size="11.2" font-weight="bold" fill="#111" text-anchor="end" >2</text>
<text x="459.4" y="428.5" font-size="11.3" font-weight="bold" fill="#111" text-anchor="middle" >Cycle (T)</text>
<text x="462.2" y="257.8" font-size="16.0" font-weight="bold" fill="#000" text-anchor="middle" textLength="42.2" lengthAdjust="spacingAndGlyphs" stroke="#000" stroke-width="0.3" >Case2</text>
<path d="M383.3,351.1 L385.0,350.1 L386.8,349.0 L388.5,347.8 L390.3,346.6 L392.0,345.4 L393.8,344.1 L395.5,342.8 L397.2,341.4 L399.0,340.1 L400.7,338.7 L402.5,337.4 L404.2,336.1 L406.0,334.8 L407.7,333.6 L409.4,332.4 L411.2,331.3 L412.9,330.2 L414.7,329.2 L416.4,328.3 L418.2,327.5 L419.9,326.7 L421.6,326.0 L423.4,325.4 L425.1,324.8 L426.9,324.3 L428.6,323.9 L430.4,323.4 L432.1,323.0 L433.8,322.7 L435.6,322.4 L437.3,322.1 L439.1,321.8 L440.8,321.6 L442.6,321.4 L444.3,321.2 L446.0,321.0 L447.8,320.8 L449.5,320.7 L451.3,320.6 L453.0,320.5 L454.8,320.4 L456.5,320.3 L458.2,320.3 L460.0,320.2 L461.7,320.2 L463.5,320.2 L465.2,320.3 L466.9,320.4 L468.7,320.5 L470.4,320.7 L472.2,321.0 L473.9,321.3 L475.7,321.7 L477.4,322.2 L479.1,322.8 L480.9,323.5 L482.6,324.2 L484.4,325.1 L486.1,326.1 L487.9,327.2 L489.6,328.4 L491.3,329.8 L493.1,331.3 L494.8,332.8 L496.6,334.5 L498.3,336.2 L500.1,338.0 L501.8,339.8 L503.5,341.5 L505.3,343.2 L507.0,344.9 L508.8,346.5 L510.5,348.0 L512.3,349.3 L514.0,350.6 L515.7,351.8 L517.5,352.8 L519.2,353.7 L521.0,354.5 L522.7,355.2 L524.5,355.7 L526.2,356.0 L527.9,356.2 L529.7,356.2 L531.4,356.0 L533.2,355.7 L534.9,355.2 L536.7,354.5 L538.4,353.6" fill="none" stroke="#c81818" stroke-width="2.3" stroke-dasharray="6,3.5" stroke-linejoin="round"/>
<path d="M383.3,339.8 L385.0,339.0 L386.8,338.5 L388.5,338.5 L390.3,338.7 L392.0,339.2 L393.8,340.0 L395.5,341.0 L397.2,342.3 L399.0,343.7 L400.7,345.3 L402.5,347.0 L404.2,348.7 L406.0,350.6 L407.7,352.5 L409.4,354.3 L411.2,356.2 L412.9,358.0 L414.7,359.7 L416.4,361.4 L418.2,362.9 L419.9,364.3 L421.6,365.6 L423.4,366.8 L425.1,367.9 L426.9,368.8 L428.6,369.7 L430.4,370.4 L432.1,371.1 L433.8,371.6 L435.6,372.1 L437.3,372.5 L439.1,372.8 L440.8,373.0 L442.6,373.3 L444.3,373.5 L446.0,373.6 L447.8,373.8 L449.5,373.9 L451.3,374.1 L453.0,374.2 L454.8,374.3 L456.5,374.3 L458.2,374.4 L460.0,374.4 L461.7,374.4 L463.5,374.3 L465.2,374.3 L466.9,374.2 L468.7,374.0 L470.4,373.9 L472.2,373.8 L473.9,373.7 L475.7,373.6 L477.4,373.5 L479.1,373.4 L480.9,373.4 L482.6,373.3 L484.4,373.2 L486.1,373.0 L487.9,372.9 L489.6,372.7 L491.3,372.4 L493.1,372.1 L494.8,371.7 L496.6,371.2 L498.3,370.7 L500.1,370.1 L501.8,369.4 L503.5,368.7 L505.3,367.9 L507.0,367.1 L508.8,366.2 L510.5,365.2 L512.3,364.2 L514.0,363.2 L515.7,362.0 L517.5,360.9 L519.2,359.6 L521.0,358.4 L522.7,357.0 L524.5,355.6 L526.2,354.2 L527.9,352.7 L529.7,351.2 L531.4,349.6 L533.2,347.9 L534.9,346.3 L536.7,344.5 L538.4,342.7" fill="none" stroke="#1810b4" stroke-width="2.3" stroke-dasharray="6,3.5" stroke-linejoin="round"/>
<path d="M383.3,308.5 L385.0,307.0 L386.8,305.5 L388.5,303.9 L390.3,302.3 L392.0,300.7 L393.8,299.1 L395.5,297.4 L397.2,295.8 L399.0,294.2 L400.7,292.6 L402.5,291.1 L404.2,289.6 L406.0,288.1 L407.7,286.7 L409.4,285.3 L411.2,284.0 L412.9,282.8 L414.7,281.7 L416.4,280.6 L418.2,279.6 L419.9,278.7 L421.6,277.8 L423.4,277.0 L425.1,276.2 L426.9,275.5 L428.6,274.8 L430.4,274.2 L432.1,273.6 L433.8,272.9 L435.6,272.4 L437.3,271.8 L439.1,271.2 L440.8,270.7 L442.6,270.2 L444.3,269.7 L446.0,269.2 L447.8,268.7 L449.5,268.2 L451.3,267.8 L453.0,267.4 L454.8,267.0 L456.5,266.7 L458.2,266.4 L460.0,266.1 L461.7,266.0 L463.5,265.8 L465.2,265.8 L466.9,265.8 L468.7,265.9 L470.4,266.2 L472.2,266.5 L473.9,266.9 L475.7,267.5 L477.4,268.1 L479.1,268.9 L480.9,269.9 L482.6,271.0 L484.4,272.2 L486.1,273.6 L487.9,275.2 L489.6,276.9 L491.3,278.8 L493.1,280.8 L494.8,283.0 L496.6,285.3 L498.3,287.7 L500.1,290.0 L501.8,292.4 L503.5,294.7 L505.3,296.9 L507.0,299.0 L508.8,300.9 L510.5,302.6 L512.3,304.1 L514.0,305.5 L515.7,306.7 L517.5,307.8 L519.2,308.7 L521.0,309.5 L522.7,310.2 L524.5,310.7 L526.2,311.1 L527.9,311.4 L529.7,311.5 L531.4,311.6 L533.2,311.6 L534.9,311.5 L536.7,311.3 L538.4,311.0" fill="none" stroke="#c81818" stroke-width="2.3" stroke-linejoin="round"/>
<path d="M383.3,311.0 L385.0,311.0 L386.8,311.4 L388.5,312.2 L390.3,313.4 L392.0,315.0 L393.8,316.8 L395.5,318.9 L397.2,321.3 L399.0,323.8 L400.7,326.5 L402.5,329.3 L404.2,332.1 L406.0,334.9 L407.7,337.8 L409.4,340.6 L411.2,343.3 L412.9,345.8 L414.7,348.2 L416.4,350.3 L418.2,352.3 L419.9,354.1 L421.6,355.8 L423.4,357.3 L425.1,358.7 L426.9,359.9 L428.6,361.1 L430.4,362.2 L432.1,363.3 L433.8,364.2 L435.6,365.1 L437.3,365.9 L439.1,366.7 L440.8,367.3 L442.6,367.9 L444.3,368.3 L446.0,368.7 L447.8,369.0 L449.5,369.1 L451.3,369.2 L453.0,369.2 L454.8,369.2 L456.5,369.1 L458.2,368.9 L460.0,368.7 L461.7,368.4 L463.5,368.2 L465.2,367.9 L466.9,367.6 L468.7,367.3 L470.4,367.0 L472.2,366.7 L473.9,366.4 L475.7,366.1 L477.4,365.9 L479.1,365.7 L480.9,365.6 L482.6,365.4 L484.4,365.2 L486.1,364.9 L487.9,364.6 L489.6,364.2 L491.3,363.7 L493.1,363.1 L494.8,362.4 L496.6,361.6 L498.3,360.6 L500.1,359.4 L501.8,358.1 L503.5,356.6 L505.3,355.0 L507.0,353.1 L508.8,351.1 L510.5,348.8 L512.3,346.4 L514.0,343.9 L515.7,341.3 L517.5,338.6 L519.2,335.9 L521.0,333.2 L522.7,330.5 L524.5,327.8 L526.2,325.3 L527.9,322.8 L529.7,320.5 L531.4,318.3 L533.2,316.3 L534.9,314.6 L536.7,313.1 L538.4,311.9" fill="none" stroke="#1810b4" stroke-width="2.3" stroke-linejoin="round"/>
<path d="M383.3,247.7 L385.0,248.0 L386.8,248.8 L388.5,250.0 L390.3,251.7 L392.0,253.9 L393.8,256.3 L395.5,259.1 L397.2,262.2 L399.0,265.5 L400.7,269.1 L402.5,272.8 L404.2,276.6 L406.0,280.6 L407.7,284.5 L409.4,288.5 L411.2,292.5 L412.9,296.3 L414.7,300.1 L416.4,303.8 L418.2,307.3 L419.9,310.6 L421.6,313.7 L423.4,316.7 L425.1,319.5 L426.9,322.1 L428.6,324.5 L430.4,326.7 L432.1,328.6 L433.8,330.4 L435.6,331.9 L437.3,333.3 L439.1,334.5 L440.8,335.6 L442.6,336.5 L444.3,337.3 L446.0,338.0 L447.8,338.6 L449.5,339.0 L451.3,339.4 L453.0,339.7 L454.8,339.8 L456.5,339.9 L458.2,339.9 L460.0,339.9 L461.7,339.7 L463.5,339.5 L465.2,339.2 L466.9,338.9 L468.7,338.5 L470.4,338.1 L472.2,337.7 L473.9,337.4 L475.7,337.0 L477.4,336.7 L479.1,336.4 L480.9,336.1 L482.6,335.8 L484.4,335.5 L486.1,335.0 L487.9,334.5 L489.6,333.8 L491.3,333.0 L493.1,332.0 L494.8,330.8 L496.6,329.4 L498.3,327.8 L500.1,326.0 L501.8,324.0 L503.5,321.8 L505.3,319.3 L507.0,316.6 L508.8,313.7 L510.5,310.6 L512.3,307.2 L514.0,303.7 L515.7,300.1 L517.5,296.4 L519.2,292.5 L521.0,288.7 L522.7,284.8 L524.5,280.9 L526.2,277.0 L527.9,273.1 L529.7,269.4 L531.4,265.7 L533.2,262.2 L534.9,258.9 L536.7,255.7 L538.4,252.7" fill="none" stroke="#000" stroke-width="2.3" stroke-linejoin="round"/>
<path d="M110.0,444.2 L110.0,611.0 L264.7,611.0" fill="none" stroke="#111" stroke-width="1.8"/>
<path d="M110.0,611.0 v-3 M140.9,611.0 v-3 M171.9,611.0 v-3 M202.8,611.0 v-3 M233.8,611.0 v-3 M264.7,611.0 v-3 M110.0,611.0 h3 M110.0,569.3 h3 M110.0,527.6 h3 M110.0,485.9 h3 M110.0,444.2 h3 " stroke="#111" stroke-width="1.5"/>
<text x="110.0" y="624.1" font-size="11.2" font-weight="bold" fill="#111" text-anchor="middle" >0</text>
<text x="140.9" y="624.1" font-size="11.2" font-weight="bold" fill="#111" text-anchor="middle" >0.2</text>
<text x="171.9" y="624.1" font-size="11.2" font-weight="bold" fill="#111" text-anchor="middle" >0.4</text>
<text x="202.8" y="624.1" font-size="11.2" font-weight="bold" fill="#111" text-anchor="middle" >0.6</text>
<text x="233.8" y="624.1" font-size="11.2" font-weight="bold" fill="#111" text-anchor="middle" >0.8</text>
<text x="264.7" y="624.1" font-size="11.2" font-weight="bold" fill="#111" text-anchor="middle" >1</text>
<text x="107.0" y="615.0" font-size="11.2" font-weight="bold" fill="#111" text-anchor="end" >0</text>
<text x="107.0" y="573.3" font-size="11.2" font-weight="bold" fill="#111" text-anchor="end" >0.5</text>
<text x="107.0" y="531.6" font-size="11.2" font-weight="bold" fill="#111" text-anchor="end" >1</text>
<text x="107.0" y="489.9" font-size="11.2" font-weight="bold" fill="#111" text-anchor="end" >1.5</text>
<text x="107.0" y="448.2" font-size="11.2" font-weight="bold" fill="#111" text-anchor="end" >2</text>
<text x="185.8" y="637.6" font-size="11.3" font-weight="bold" fill="#111" text-anchor="middle" >Cycle (T)</text>
<text x="179.7" y="458.9" font-size="15.0" font-weight="bold" fill="#000" text-anchor="middle" textLength="47.2" lengthAdjust="spacingAndGlyphs" stroke="#000" stroke-width="0.3" >Case 3</text>
<text transform="translate(80.0,537.4) rotate(-90)" x="0" y="0" font-size="17.6" font-weight="bold" text-anchor="middle" textLength="106.2" lengthAdjust="spacingAndGlyphs">Volume(mm<tspan font-size="11" dy="-8">3</tspan><tspan dy="8">)</tspan></text>
<path d="M110.0,579.3 L111.7,579.0 L113.5,578.6 L115.2,578.2 L117.0,577.9 L118.7,577.5 L120.4,577.2 L122.2,576.8 L123.9,576.5 L125.6,576.2 L127.4,575.9 L129.1,575.6 L130.9,575.3 L132.6,575.1 L134.3,574.9 L136.1,574.7 L137.8,574.5 L139.5,574.4 L141.3,574.3 L143.0,574.2 L144.8,574.2 L146.5,574.2 L148.2,574.2 L150.0,574.2 L151.7,574.2 L153.5,574.3 L155.2,574.3 L156.9,574.3 L158.7,574.3 L160.4,574.3 L162.1,574.3 L163.9,574.3 L165.6,574.3 L167.4,574.3 L169.1,574.3 L170.8,574.3 L172.6,574.3 L174.3,574.4 L176.1,574.4 L177.8,574.5 L179.5,574.6 L181.3,574.8 L183.0,574.9 L184.7,575.1 L186.5,575.3 L188.2,575.6 L190.0,575.9 L191.7,576.2 L193.4,576.6 L195.2,577.1 L196.9,577.6 L198.6,578.2 L200.4,578.8 L202.1,579.5 L203.9,580.3 L205.6,581.1 L207.3,582.0 L209.1,582.9 L210.8,583.9 L212.6,584.7 L214.3,585.5 L216.0,586.3 L217.8,586.9 L219.5,587.4 L221.2,587.8 L223.0,588.0 L224.7,588.2 L226.5,588.2 L228.2,588.2 L229.9,588.1 L231.7,587.9 L233.4,587.7 L235.2,587.4 L236.9,587.2 L238.6,586.9 L240.4,586.5 L242.1,586.2 L243.8,585.8 L245.6,585.4 L247.3,585.1 L249.1,584.7 L250.8,584.3 L252.5,583.9 L254.3,583.6 L256.0,583.2 L257.7,582.9 L259.5,582.6 L261.2,582.3 L263.0,582.0 L264.7,581.8" fill="none" stroke="#c81818" stroke-width="2.3" stroke-dasharray="6,3.5" stroke-linejoin="round"/>
<path d="M110.0,577.6 L111.7,577.8 L113.5,578.1 L115.2,578.5 L117.0,579.0 L118.7,579.6 L120.4,580.2 L122.2,580.8 L123.9,581.6 L125.6,582.3 L127.4,583.1 L129.1,583.8 L130.9,584.6 L132.6,585.4 L134.3,586.1 L136.1,586.8 L137.8,587.5 L139.5,588.1 L141.3,588.6 L143.0,589.0 L144.8,589.4 L146.5,589.7 L148.2,590.0 L150.0,590.2 L151.7,590.4 L153.5,590.5 L155.2,590.7 L156.9,590.8 L158.7,590.8 L160.4,590.9 L162.1,591.0 L163.9,591.0 L165.6,591.0 L167.4,590.9 L169.1,590.9 L170.8,590.8 L172.6,590.7 L174.3,590.5 L176.1,590.3 L177.8,590.1 L179.5,589.9 L181.3,589.6 L183.0,589.3 L184.7,589.0 L186.5,588.7 L188.2,588.3 L190.0,587.9 L191.7,587.6 L193.4,587.2 L195.2,586.7 L196.9,586.3 L198.6,585.8 L200.4,585.4 L202.1,584.9 L203.9,584.3 L205.6,583.8 L207.3,583.2 L209.1,582.7 L210.8,582.1 L212.6,581.5 L214.3,581.0 L216.0,580.5 L217.8,580.0 L219.5,579.5 L221.2,579.0 L223.0,578.6 L224.7,578.3 L226.5,577.9 L228.2,577.6 L229.9,577.3 L231.7,577.1 L233.4,576.8 L235.2,576.7 L236.9,576.5 L238.6,576.4 L240.4,576.3 L242.1,576.2 L243.8,576.2 L245.6,576.2 L247.3,576.2 L249.1,576.2 L250.8,576.3 L252.5,576.4 L254.3,576.5 L256.0,576.6 L257.7,576.8 L259.5,577.0 L261.2,577.2 L263.0,577.4 L264.7,577.6" fill="none" stroke="#1810b4" stroke-width="2.3" stroke-dasharray="6,3.5" stroke-linejoin="round"/>
<path d="M110.0,555.1 L111.7,554.5 L113.5,553.8 L115.2,553.1 L117.0,552.2 L118.7,551.3 L120.4,550.3 L122.2,549.2 L123.9,548.2 L125.6,547.1 L127.4,546.0 L129.1,544.9 L130.9,543.9 L132.6,542.8 L134.3,541.8 L136.1,540.9 L137.8,540.0 L139.5,539.3 L141.3,538.6 L143.0,538.0 L144.8,537.5 L146.5,537.0 L148.2,536.7 L150.0,536.4 L151.7,536.2 L153.5,536.1 L155.2,536.0 L156.9,535.9 L158.7,535.9 L160.4,535.9 L162.1,535.9 L163.9,535.9 L165.6,536.0 L167.4,536.0 L169.1,536.0 L170.8,536.0 L172.6,535.9 L174.3,535.8 L176.1,535.7 L177.8,535.6 L179.5,535.6 L181.3,535.5 L183.0,535.5 L184.7,535.6 L186.5,535.8 L188.2,536.1 L190.0,536.5 L191.7,537.0 L193.4,537.7 L195.2,538.4 L196.9,539.3 L198.6,540.4 L200.4,541.5 L202.1,542.9 L203.9,544.3 L205.6,546.0 L207.3,547.7 L209.1,549.4 L210.8,551.2 L212.6,552.9 L214.3,554.6 L216.0,556.2 L217.8,557.6 L219.5,558.9 L221.2,560.0 L223.0,561.0 L224.7,561.7 L226.5,562.4 L228.2,562.8 L229.9,563.2 L231.7,563.4 L233.4,563.5 L235.2,563.4 L236.9,563.3 L238.6,563.1 L240.4,562.8 L242.1,562.4 L243.8,562.0 L245.6,561.5 L247.3,561.0 L249.1,560.5 L250.8,560.0 L252.5,559.5 L254.3,558.9 L256.0,558.5 L257.7,558.0 L259.5,557.6 L261.2,557.3 L263.0,557.0 L264.7,556.8" fill="none" stroke="#c81818" stroke-width="2.3" stroke-linejoin="round"/>
<path d="M110.0,580.3 L111.7,580.4 L113.5,580.6 L115.2,581.0 L117.0,581.4 L118.7,581.9 L120.4,582.5 L122.2,583.2 L123.9,583.9 L125.6,584.7 L127.4,585.5 L129.1,586.4 L130.9,587.2 L132.6,588.1 L134.3,588.9 L136.1,589.7 L137.8,590.5 L139.5,591.3 L141.3,592.0 L143.0,592.6 L144.8,593.1 L146.5,593.6 L148.2,594.1 L150.0,594.5 L151.7,594.8 L153.5,595.1 L155.2,595.4 L156.9,595.5 L158.7,595.7 L160.4,595.8 L162.1,595.8 L163.9,595.9 L165.6,595.8 L167.4,595.8 L169.1,595.7 L170.8,595.6 L172.6,595.4 L174.3,595.3 L176.1,595.1 L177.8,594.8 L179.5,594.6 L181.3,594.3 L183.0,594.0 L184.7,593.7 L186.5,593.3 L188.2,593.0 L190.0,592.6 L191.7,592.2 L193.4,591.8 L195.2,591.3 L196.9,590.9 L198.6,590.5 L200.4,590.1 L202.1,589.6 L203.9,589.2 L205.6,588.8 L207.3,588.4 L209.1,588.1 L210.8,587.7 L212.6,587.3 L214.3,586.9 L216.0,586.5 L217.8,586.1 L219.5,585.7 L221.2,585.3 L223.0,584.9 L224.7,584.4 L226.5,584.0 L228.2,583.6 L229.9,583.2 L231.7,582.7 L233.4,582.3 L235.2,581.9 L236.9,581.5 L238.6,581.1 L240.4,580.7 L242.1,580.4 L243.8,580.1 L245.6,579.8 L247.3,579.5 L249.1,579.3 L250.8,579.2 L252.5,579.1 L254.3,579.0 L256.0,579.1 L257.7,579.2 L259.5,579.3 L261.2,579.6 L263.0,579.9 L264.7,580.3" fill="none" stroke="#1810b4" stroke-width="2.3" stroke-linejoin="round"/>
<path d="M110.0,547.9 L111.7,548.3 L113.5,548.9 L115.2,549.6 L117.0,550.5 L118.7,551.4 L120.4,552.5 L122.2,553.6 L123.9,554.8 L125.6,556.1 L127.4,557.4 L129.1,558.7 L130.9,560.1 L132.6,561.4 L134.3,562.8 L136.1,564.1 L137.8,565.4 L139.5,566.7 L141.3,567.9 L143.0,569.0 L144.8,570.1 L146.5,571.0 L148.2,572.0 L150.0,572.8 L151.7,573.5 L153.5,574.2 L155.2,574.8 L156.9,575.3 L158.7,575.7 L160.4,576.0 L162.1,576.2 L163.9,576.4 L165.6,576.4 L167.4,576.4 L169.1,576.3 L170.8,576.1 L172.6,575.9 L174.3,575.5 L176.1,575.1 L177.8,574.7 L179.5,574.2 L181.3,573.6 L183.0,573.0 L184.7,572.4 L186.5,571.7 L188.2,571.0 L190.0,570.3 L191.7,569.6 L193.4,568.8 L195.2,568.0 L196.9,567.2 L198.6,566.4 L200.4,565.5 L202.1,564.6 L203.9,563.8 L205.6,562.9 L207.3,561.9 L209.1,561.0 L210.8,560.1 L212.6,559.1 L214.3,558.2 L216.0,557.2 L217.8,556.2 L219.5,555.3 L221.2,554.3 L223.0,553.4 L224.7,552.5 L226.5,551.6 L228.2,550.7 L229.9,549.9 L231.7,549.2 L233.4,548.6 L235.2,548.0 L236.9,547.5 L238.6,547.1 L240.4,546.7 L242.1,546.5 L243.8,546.2 L245.6,546.1 L247.3,546.0 L249.1,545.9 L250.8,546.0 L252.5,546.0 L254.3,546.1 L256.0,546.2 L257.7,546.4 L259.5,546.5 L261.2,546.7 L263.0,547.0 L264.7,547.2" fill="none" stroke="#000" stroke-width="2.3" stroke-linejoin="round"/>
<path d="M295.0,443.3 L295.0,610.1 L450.4,610.1" fill="none" stroke="#111" stroke-width="1.8"/>
<path d="M295.0,610.1 v-3 M326.1,610.1 v-3 M357.2,610.1 v-3 M388.2,610.1 v-3 M419.3,610.1 v-3 M450.4,610.1 v-3 M295.0,610.1 h3 M295.0,568.4 h3 M295.0,526.7 h3 M295.0,485.0 h3 M295.0,443.3 h3 " stroke="#111" stroke-width="1.5"/>
<text x="295.0" y="623.2" font-size="11.2" font-weight="bold" fill="#111" text-anchor="middle" >0</text>
<text x="326.1" y="623.2" font-size="11.2" font-weight="bold" fill="#111" text-anchor="middle" >0.2</text>
<text x="357.2" y="623.2" font-size="11.2" font-weight="bold" fill="#111" text-anchor="middle" >0.4</text>
<text x="388.2" y="623.2" font-size="11.2" font-weight="bold" fill="#111" text-anchor="middle" >0.6</text>
<text x="419.3" y="623.2" font-size="11.2" font-weight="bold" fill="#111" text-anchor="middle" >0.8</text>
<text x="450.4" y="623.2" font-size="11.2" font-weight="bold" fill="#111" text-anchor="middle" >1</text>
<text x="292.0" y="614.1" font-size="11.2" font-weight="bold" fill="#111" text-anchor="end" >0</text>
<text x="292.0" y="572.4" font-size="11.2" font-weight="bold" fill="#111" text-anchor="end" >0.5</text>
<text x="292.0" y="530.7" font-size="11.2" font-weight="bold" fill="#111" text-anchor="end" >1</text>
<text x="292.0" y="489.0" font-size="11.2" font-weight="bold" fill="#111" text-anchor="end" >1.5</text>
<text x="292.0" y="447.3" font-size="11.2" font-weight="bold" fill="#111" text-anchor="end" >2</text>
<text x="371.2" y="636.7" font-size="11.3" font-weight="bold" fill="#111" text-anchor="middle" >Cycle (T)</text>
<text x="378.5" y="458.9" font-size="15.0" font-weight="bold" fill="#000" text-anchor="middle" textLength="47.0" lengthAdjust="spacingAndGlyphs" stroke="#000" stroke-width="0.3" >Case 4</text>
<path d="M295.0,565.1 L296.7,564.3 L298.5,563.7 L300.2,563.0 L302.0,562.4 L303.7,561.9 L305.5,561.4 L307.2,560.9 L309.0,560.4 L310.7,560.0 L312.5,559.6 L314.2,559.3 L316.0,558.9 L317.7,558.6 L319.4,558.3 L321.2,558.0 L322.9,557.7 L324.7,557.4 L326.4,557.1 L328.2,556.8 L329.9,556.5 L331.7,556.3 L333.4,556.0 L335.2,555.8 L336.9,555.5 L338.7,555.3 L340.4,555.2 L342.1,555.0 L343.9,554.9 L345.6,554.8 L347.4,554.7 L349.1,554.7 L350.9,554.7 L352.6,554.7 L354.4,554.7 L356.1,554.7 L357.9,554.7 L359.6,554.8 L361.4,554.8 L363.1,554.9 L364.8,554.9 L366.6,554.9 L368.3,555.0 L370.1,555.0 L371.8,555.0 L373.6,555.1 L375.3,555.1 L377.1,555.1 L378.8,555.1 L380.6,555.1 L382.3,555.1 L384.0,555.1 L385.8,555.1 L387.5,555.1 L389.3,555.1 L391.0,555.1 L392.8,555.1 L394.5,555.1 L396.3,555.2 L398.0,555.3 L399.8,555.4 L401.5,555.5 L403.3,555.6 L405.0,555.8 L406.7,555.9 L408.5,556.1 L410.2,556.4 L412.0,556.7 L413.7,557.0 L415.5,557.3 L417.2,557.7 L419.0,558.1 L420.7,558.5 L422.5,559.0 L424.2,559.4 L426.0,559.9 L427.7,560.5 L429.4,561.0 L431.2,561.5 L432.9,562.0 L434.7,562.5 L436.4,563.0 L438.2,563.4 L439.9,563.9 L441.7,564.2 L443.4,564.6 L445.2,564.8 L446.9,565.1 L448.7,565.2 L450.4,565.3" fill="none" stroke="#c81818" stroke-width="2.3" stroke-dasharray="6,3.5" stroke-linejoin="round"/>
<path d="M295.0,569.2 L296.7,569.3 L298.5,569.5 L300.2,569.6 L302.0,569.8 L303.7,570.0 L305.5,570.2 L307.2,570.4 L309.0,570.7 L310.7,570.9 L312.5,571.2 L314.2,571.6 L316.0,571.9 L317.7,572.3 L319.4,572.7 L321.2,573.2 L322.9,573.6 L324.7,574.1 L326.4,574.7 L328.2,575.3 L329.9,575.9 L331.7,576.5 L333.4,577.2 L335.2,577.8 L336.9,578.6 L338.7,579.3 L340.4,580.0 L342.1,580.8 L343.9,581.6 L345.6,582.4 L347.4,583.1 L349.1,583.9 L350.9,584.6 L352.6,585.3 L354.4,585.9 L356.1,586.5 L357.9,586.9 L359.6,587.3 L361.4,587.6 L363.1,587.9 L364.8,588.1 L366.6,588.2 L368.3,588.4 L370.1,588.5 L371.8,588.5 L373.6,588.6 L375.3,588.7 L377.1,588.8 L378.8,588.8 L380.6,588.9 L382.3,588.9 L384.0,589.0 L385.8,589.0 L387.5,589.1 L389.3,589.1 L391.0,589.1 L392.8,589.1 L394.5,589.1 L396.3,589.0 L398.0,589.0 L399.8,588.9 L401.5,588.8 L403.3,588.6 L405.0,588.5 L406.7,588.2 L408.5,588.0 L410.2,587.7 L412.0,587.3 L413.7,587.0 L415.5,586.5 L417.2,586.1 L419.0,585.5 L420.7,584.9 L422.5,584.3 L424.2,583.6 L426.0,582.9 L427.7,582.2 L429.4,581.4 L431.2,580.6 L432.9,579.8 L434.7,579.0 L436.4,578.2 L438.2,577.3 L439.9,576.5 L441.7,575.6 L443.4,574.8 L445.2,574.0 L446.9,573.2 L448.7,572.5 L450.4,571.7" fill="none" stroke="#1810b4" stroke-width="2.3" stroke-dasharray="6,3.5" stroke-linejoin="round"/>
<path d="M295.0,565.1 L296.7,564.3 L298.5,563.6 L300.2,562.8 L302.0,562.1 L303.7,561.3 L305.5,560.6 L307.2,559.8 L309.0,559.1 L310.7,558.3 L312.5,557.6 L314.2,556.8 L316.0,556.0 L317.7,555.3 L319.4,554.5 L321.2,553.8 L322.9,553.0 L324.7,552.3 L326.4,551.6 L328.2,550.8 L329.9,550.1 L331.7,549.4 L333.4,548.7 L335.2,548.0 L336.9,547.3 L338.7,546.6 L340.4,545.9 L342.1,545.3 L343.9,544.6 L345.6,544.0 L347.4,543.4 L349.1,542.8 L350.9,542.2 L352.6,541.8 L354.4,541.4 L356.1,541.0 L357.9,540.8 L359.6,540.6 L361.4,540.5 L363.1,540.5 L364.8,540.5 L366.6,540.6 L368.3,540.6 L370.1,540.7 L371.8,540.8 L373.6,540.9 L375.3,541.0 L377.1,541.1 L378.8,541.1 L380.6,541.1 L382.3,541.1 L384.0,541.1 L385.8,541.0 L387.5,540.9 L389.3,540.8 L391.0,540.7 L392.8,540.5 L394.5,540.4 L396.3,540.3 L398.0,540.3 L399.8,540.3 L401.5,540.5 L403.3,540.8 L405.0,541.2 L406.7,541.8 L408.5,542.5 L410.2,543.3 L412.0,544.3 L413.7,545.3 L415.5,546.5 L417.2,547.7 L419.0,549.0 L420.7,550.3 L422.5,551.7 L424.2,553.1 L426.0,554.5 L427.7,555.9 L429.4,557.3 L431.2,558.6 L432.9,559.9 L434.7,561.1 L436.4,562.2 L438.2,563.2 L439.9,564.1 L441.7,564.9 L443.4,565.5 L445.2,565.9 L446.9,566.1 L448.7,566.1 L450.4,565.9" fill="none" stroke="#c81818" stroke-width="2.3" stroke-linejoin="round"/>
<path d="M295.0,569.0 L296.7,569.3 L298.5,569.6 L300.2,569.9 L302.0,570.2 L303.7,570.5 L305.5,570.8 L307.2,571.1 L309.0,571.4 L310.7,571.8 L312.5,572.1 L314.2,572.5 L316.0,572.9 L317.7,573.3 L319.4,573.8 L321.2,574.3 L322.9,574.8 L324.7,575.4 L326.4,576.0 L328.2,576.7 L329.9,577.5 L331.7,578.2 L333.4,579.0 L335.2,579.9 L336.9,580.7 L338.7,581.5 L340.4,582.4 L342.1,583.2 L343.9,584.1 L345.6,584.9 L347.4,585.7 L349.1,586.5 L350.9,587.2 L352.6,587.8 L354.4,588.4 L356.1,589.0 L357.9,589.4 L359.6,589.8 L361.4,590.1 L363.1,590.4 L364.8,590.5 L366.6,590.7 L368.3,590.8 L370.1,590.9 L371.8,590.9 L373.6,590.9 L375.3,590.9 L377.1,590.9 L378.8,590.9 L380.6,590.9 L382.3,590.9 L384.0,590.9 L385.8,590.9 L387.5,590.9 L389.3,590.9 L391.0,591.0 L392.8,591.0 L394.5,591.0 L396.3,591.0 L398.0,591.1 L399.8,591.0 L401.5,591.0 L403.3,590.9 L405.0,590.8 L406.7,590.7 L408.5,590.5 L410.2,590.3 L412.0,589.9 L413.7,589.6 L415.5,589.1 L417.2,588.6 L419.0,588.0 L420.7,587.3 L422.5,586.5 L424.2,585.6 L426.0,584.7 L427.7,583.7 L429.4,582.7 L431.2,581.6 L432.9,580.6 L434.7,579.5 L436.4,578.5 L438.2,577.4 L439.9,576.4 L441.7,575.5 L443.4,574.6 L445.2,573.7 L446.9,573.0 L448.7,572.3 L450.4,571.7" fill="none" stroke="#1810b4" stroke-width="2.3" stroke-linejoin="round"/>
<path d="M295.0,529.2 L296.7,528.8 L298.5,528.5 L300.2,528.3 L302.0,528.3 L303.7,528.3 L305.5,528.4 L307.2,528.6 L309.0,528.9 L310.7,529.2 L312.5,529.7 L314.2,530.1 L316.0,530.7 L317.7,531.3 L319.4,531.9 L321.2,532.6 L322.9,533.3 L324.7,534.0 L326.4,534.8 L328.2,535.5 L329.9,536.3 L331.7,537.2 L333.4,538.1 L335.2,539.0 L336.9,540.1 L338.7,541.2 L340.4,542.4 L342.1,543.8 L343.9,545.3 L345.6,546.8 L347.4,548.4 L349.1,550.1 L350.9,551.8 L352.6,553.5 L354.4,555.1 L356.1,556.7 L357.9,558.1 L359.6,559.5 L361.4,560.8 L363.1,562.0 L364.8,563.1 L366.6,564.0 L368.3,564.9 L370.1,565.7 L371.8,566.4 L373.6,567.0 L375.3,567.5 L377.1,568.0 L378.8,568.3 L380.6,568.6 L382.3,568.8 L384.0,569.0 L385.8,569.1 L387.5,569.2 L389.3,569.3 L391.0,569.3 L392.8,569.3 L394.5,569.2 L396.3,569.2 L398.0,569.0 L399.8,568.9 L401.5,568.7 L403.3,568.5 L405.0,568.2 L406.7,567.9 L408.5,567.5 L410.2,567.0 L412.0,566.4 L413.7,565.7 L415.5,564.9 L417.2,563.9 L419.0,562.8 L420.7,561.5 L422.5,560.0 L424.2,558.4 L426.0,556.7 L427.7,554.8 L429.4,552.9 L431.2,550.9 L432.9,548.9 L434.7,546.9 L436.4,544.9 L438.2,543.0 L439.9,541.1 L441.7,539.3 L443.4,537.5 L445.2,536.0 L446.9,534.5 L448.7,533.3 L450.4,532.2" fill="none" stroke="#000" stroke-width="2.3" stroke-linejoin="round"/>
<path d="M480.0,443.1 L480.0,612.6 L637.5,612.6" fill="none" stroke="#111" stroke-width="1.8"/>
<path d="M480.0,612.6 v-3 M511.5,612.6 v-3 M543.0,612.6 v-3 M574.5,612.6 v-3 M606.0,612.6 v-3 M637.5,612.6 v-3 M480.0,612.6 h3 M480.0,570.2 h3 M480.0,527.9 h3 M480.0,485.5 h3 M480.0,443.1 h3 " stroke="#111" stroke-width="1.5"/>
<text x="480.0" y="625.7" font-size="11.2" font-weight="bold" fill="#111" text-anchor="middle" >0</text>
<text x="511.5" y="625.7" font-size="11.2" font-weight="bold" fill="#111" text-anchor="middle" >0.2</text>
<text x="543.0" y="625.7" font-size="11.2" font-weight="bold" fill="#111" text-anchor="middle" >0.4</text>
<text x="574.5" y="625.7" font-size="11.2" font-weight="bold" fill="#111" text-anchor="middle" >0.6</text>
<text x="606.0" y="625.7" font-size="11.2" font-weight="bold" fill="#111" text-anchor="middle" >0.8</text>
<text x="637.5" y="625.7" font-size="11.2" font-weight="bold" fill="#111" text-anchor="middle" >1</text>
<text x="477.0" y="616.6" font-size="11.2" font-weight="bold" fill="#111" text-anchor="end" >0</text>
<text x="477.0" y="574.2" font-size="11.2" font-weight="bold" fill="#111" text-anchor="end" >0.5</text>
<text x="477.0" y="531.9" font-size="11.2" font-weight="bold" fill="#111" text-anchor="end" >1</text>
<text x="477.0" y="489.5" font-size="11.2" font-weight="bold" fill="#111" text-anchor="end" >1.5</text>
<text x="477.0" y="447.1" font-size="11.2" font-weight="bold" fill="#111" text-anchor="end" >2</text>
<text x="557.2" y="639.2" font-size="11.3" font-weight="bold" fill="#111" text-anchor="middle" >Cycle (T)</text>
<text x="557.3" y="458.9" font-size="15.0" font-weight="bold" fill="#000" text-anchor="middle" textLength="46.5" lengthAdjust="spacingAndGlyphs" stroke="#000" stroke-width="0.3" >Case 5</text>
<path d="M480.0,590.2 L481.8,589.6 L483.5,589.1 L485.3,588.6 L487.1,588.2 L488.8,587.8 L490.6,587.4 L492.4,587.1 L494.2,586.8 L495.9,586.6 L497.7,586.3 L499.5,586.2 L501.2,586.0 L503.0,585.9 L504.8,585.7 L506.5,585.7 L508.3,585.6 L510.1,585.5 L511.9,585.5 L513.6,585.4 L515.4,585.4 L517.2,585.4 L518.9,585.4 L520.7,585.4 L522.5,585.4 L524.2,585.4 L526.0,585.5 L527.8,585.5 L529.6,585.5 L531.3,585.6 L533.1,585.6 L534.9,585.7 L536.6,585.8 L538.4,585.9 L540.2,585.9 L541.9,586.0 L543.7,586.1 L545.5,586.2 L547.2,586.3 L549.0,586.4 L550.8,586.5 L552.6,586.5 L554.3,586.6 L556.1,586.6 L557.9,586.6 L559.6,586.6 L561.4,586.5 L563.2,586.5 L564.9,586.4 L566.7,586.3 L568.5,586.3 L570.3,586.3 L572.0,586.4 L573.8,586.5 L575.6,586.7 L577.3,587.0 L579.1,587.3 L580.9,587.7 L582.6,588.1 L584.4,588.6 L586.2,589.0 L587.9,589.6 L589.7,590.1 L591.5,590.6 L593.3,591.1 L595.0,591.6 L596.8,592.1 L598.6,592.5 L600.3,592.9 L602.1,593.3 L603.9,593.6 L605.6,593.9 L607.4,594.1 L609.2,594.3 L611.0,594.4 L612.7,594.4 L614.5,594.4 L616.3,594.4 L618.0,594.3 L619.8,594.1 L621.6,594.0 L623.3,593.8 L625.1,593.5 L626.9,593.3 L628.7,593.0 L630.4,592.7 L632.2,592.4 L634.0,592.1 L635.7,591.8 L637.5,591.4" fill="none" stroke="#c81818" stroke-width="2.3" stroke-dasharray="6,3.5" stroke-linejoin="round"/>
<path d="M480.0,582.9 L481.8,583.5 L483.5,584.1 L485.3,584.7 L487.1,585.3 L488.8,586.0 L490.6,586.7 L492.4,587.5 L494.2,588.2 L495.9,588.9 L497.7,589.7 L499.5,590.4 L501.2,591.2 L503.0,591.9 L504.8,592.6 L506.5,593.3 L508.3,594.0 L510.1,594.6 L511.9,595.2 L513.6,595.7 L515.4,596.2 L517.2,596.7 L518.9,597.1 L520.7,597.5 L522.5,597.9 L524.2,598.2 L526.0,598.5 L527.8,598.8 L529.6,599.1 L531.3,599.3 L533.1,599.5 L534.9,599.7 L536.6,599.9 L538.4,600.1 L540.2,600.2 L541.9,600.3 L543.7,600.4 L545.5,600.5 L547.2,600.6 L549.0,600.6 L550.8,600.6 L552.6,600.6 L554.3,600.6 L556.1,600.5 L557.9,600.4 L559.6,600.4 L561.4,600.2 L563.2,600.1 L564.9,600.0 L566.7,599.8 L568.5,599.6 L570.3,599.4 L572.0,599.1 L573.8,598.8 L575.6,598.5 L577.3,598.1 L579.1,597.8 L580.9,597.3 L582.6,596.9 L584.4,596.4 L586.2,595.9 L587.9,595.3 L589.7,594.7 L591.5,594.1 L593.3,593.5 L595.0,592.8 L596.8,592.2 L598.6,591.5 L600.3,590.9 L602.1,590.2 L603.9,589.6 L605.6,589.0 L607.4,588.4 L609.2,587.9 L611.0,587.4 L612.7,586.9 L614.5,586.5 L616.3,586.0 L618.0,585.6 L619.8,585.2 L621.6,584.8 L623.3,584.5 L625.1,584.1 L626.9,583.8 L628.7,583.4 L630.4,583.1 L632.2,582.7 L634.0,582.4 L635.7,582.0 L637.5,581.7" fill="none" stroke="#1810b4" stroke-width="2.3" stroke-dasharray="6,3.5" stroke-linejoin="round"/>
<path d="M480.0,580.4 L481.8,580.3 L483.5,580.2 L485.3,580.0 L487.1,579.7 L488.8,579.4 L490.6,579.1 L492.4,578.7 L494.2,578.4 L495.9,578.0 L497.7,577.6 L499.5,577.2 L501.2,576.8 L503.0,576.4 L504.8,576.0 L506.5,575.7 L508.3,575.4 L510.1,575.1 L511.9,574.8 L513.6,574.6 L515.4,574.5 L517.2,574.4 L518.9,574.3 L520.7,574.3 L522.5,574.3 L524.2,574.3 L526.0,574.4 L527.8,574.5 L529.6,574.6 L531.3,574.8 L533.1,575.0 L534.9,575.2 L536.6,575.4 L538.4,575.6 L540.2,575.8 L541.9,576.0 L543.7,576.2 L545.5,576.4 L547.2,576.6 L549.0,576.8 L550.8,576.9 L552.6,577.1 L554.3,577.2 L556.1,577.3 L557.9,577.5 L559.6,577.6 L561.4,577.7 L563.2,577.8 L564.9,577.8 L566.7,577.9 L568.5,577.9 L570.3,578.0 L572.0,578.0 L573.8,578.0 L575.6,578.0 L577.3,578.0 L579.1,578.0 L580.9,578.0 L582.6,578.1 L584.4,578.2 L586.2,578.4 L587.9,578.7 L589.7,579.1 L591.5,579.6 L593.3,580.2 L595.0,580.9 L596.8,581.6 L598.6,582.3 L600.3,583.0 L602.1,583.7 L603.9,584.3 L605.6,584.7 L607.4,585.1 L609.2,585.2 L611.0,585.3 L612.7,585.3 L614.5,585.2 L616.3,585.0 L618.0,584.7 L619.8,584.5 L621.6,584.2 L623.3,583.8 L625.1,583.5 L626.9,583.2 L628.7,583.0 L630.4,582.8 L632.2,582.7 L634.0,582.7 L635.7,582.7 L637.5,582.9" fill="none" stroke="#c81818" stroke-width="2.3" stroke-linejoin="round"/>
<path d="M480.0,569.4 L481.8,569.6 L483.5,570.0 L485.3,570.4 L487.1,570.9 L488.8,571.5 L490.6,572.2 L492.4,572.9 L494.2,573.7 L495.9,574.5 L497.7,575.4 L499.5,576.4 L501.2,577.3 L503.0,578.3 L504.8,579.2 L506.5,580.2 L508.3,581.2 L510.1,582.2 L511.9,583.1 L513.6,584.1 L515.4,585.0 L517.2,585.8 L518.9,586.7 L520.7,587.5 L522.5,588.3 L524.2,589.0 L526.0,589.7 L527.8,590.4 L529.6,591.1 L531.3,591.7 L533.1,592.2 L534.9,592.7 L536.6,593.2 L538.4,593.6 L540.2,594.0 L541.9,594.4 L543.7,594.7 L545.5,594.9 L547.2,595.1 L549.0,595.3 L550.8,595.5 L552.6,595.6 L554.3,595.6 L556.1,595.7 L557.9,595.7 L559.6,595.6 L561.4,595.6 L563.2,595.5 L564.9,595.4 L566.7,595.2 L568.5,595.0 L570.3,594.7 L572.0,594.4 L573.8,594.1 L575.6,593.7 L577.3,593.3 L579.1,592.8 L580.9,592.3 L582.6,591.7 L584.4,591.1 L586.2,590.5 L587.9,589.8 L589.7,589.1 L591.5,588.4 L593.3,587.6 L595.0,586.8 L596.8,586.0 L598.6,585.2 L600.3,584.4 L602.1,583.5 L603.9,582.7 L605.6,581.8 L607.4,581.0 L609.2,580.1 L611.0,579.3 L612.7,578.4 L614.5,577.6 L616.3,576.8 L618.0,576.0 L619.8,575.3 L621.6,574.5 L623.3,573.8 L625.1,573.2 L626.9,572.6 L628.7,572.0 L630.4,571.5 L632.2,571.0 L634.0,570.6 L635.7,570.3 L637.5,570.0" fill="none" stroke="#1810b4" stroke-width="2.3" stroke-linejoin="round"/>
<path d="M480.0,538.5 L481.8,539.3 L483.5,540.2 L485.3,541.2 L487.1,542.3 L488.8,543.5 L490.6,544.8 L492.4,546.2 L494.2,547.7 L495.9,549.2 L497.7,550.7 L499.5,552.3 L501.2,554.0 L503.0,555.6 L504.8,557.3 L506.5,558.9 L508.3,560.6 L510.1,562.2 L511.9,563.8 L513.6,565.3 L515.4,566.8 L517.2,568.3 L518.9,569.7 L520.7,571.0 L522.5,572.4 L524.2,573.6 L526.0,574.8 L527.8,575.9 L529.6,576.9 L531.3,577.9 L533.1,578.8 L534.9,579.6 L536.6,580.4 L538.4,581.1 L540.2,581.7 L541.9,582.2 L543.7,582.6 L545.5,582.9 L547.2,583.2 L549.0,583.3 L550.8,583.4 L552.6,583.5 L554.3,583.4 L556.1,583.3 L557.9,583.1 L559.6,582.8 L561.4,582.5 L563.2,582.0 L564.9,581.6 L566.7,581.0 L568.5,580.4 L570.3,579.8 L572.0,579.0 L573.8,578.2 L575.6,577.3 L577.3,576.4 L579.1,575.4 L580.9,574.3 L582.6,573.2 L584.4,572.1 L586.2,571.0 L587.9,569.8 L589.7,568.6 L591.5,567.4 L593.3,566.3 L595.0,565.1 L596.8,563.9 L598.6,562.7 L600.3,561.5 L602.1,560.3 L603.9,559.0 L605.6,557.8 L607.4,556.5 L609.2,555.2 L611.0,553.9 L612.7,552.7 L614.5,551.4 L616.3,550.1 L618.0,548.9 L619.8,547.7 L621.6,546.6 L623.3,545.5 L625.1,544.5 L626.9,543.5 L628.7,542.6 L630.4,541.8 L632.2,541.1 L634.0,540.5 L635.7,540.0 L637.5,539.5" fill="none" stroke="#000" stroke-width="2.3" stroke-linejoin="round"/>
<rect x="88.8" y="646.3" width="528.4" height="43.6" fill="none" stroke="#222" stroke-width="1.3"/>
<path d="M93.7,655.8 H132.9" stroke="#c81818" stroke-width="3"/>
<path d="M96,677.2 H132.9" stroke="#1810b4" stroke-width="3" stroke-dasharray="6,3.5"/>
<path d="M266.1,655.6 H302.9" stroke="#c81818" stroke-width="3" stroke-dasharray="6,3.5"/>
<path d="M265.4,677.9 H304.1" stroke="#1810b4" stroke-width="3"/>
<path d="M427,678.2 H465.6" stroke="#000" stroke-width="3"/>
<text x="135.8" y="663.3" font-size="14.8" font-weight="bold" fill="#000" text-anchor="start" textLength="68.3" lengthAdjust="spacingAndGlyphs" stroke="#000" stroke-width="0.3" >Right atria</text>
<text x="135.8" y="682.6" font-size="14.8" font-weight="bold" fill="#000" text-anchor="start" textLength="96.1" lengthAdjust="spacingAndGlyphs" stroke="#000" stroke-width="0.3" >Right ventricle</text>
<text x="310.8" y="662.0" font-size="14.8" font-weight="bold" fill="#000" text-anchor="start" textLength="60.1" lengthAdjust="spacingAndGlyphs" stroke="#000" stroke-width="0.3" >Left atria</text>
<text x="310.8" y="682.6" font-size="14.8" font-weight="bold" fill="#000" text-anchor="start" textLength="87.6" lengthAdjust="spacingAndGlyphs" stroke="#000" stroke-width="0.3" >Left ventricle</text>
<text x="470.4" y="683.0" font-size="14.8" font-weight="bold" fill="#000" text-anchor="start" textLength="139.7" lengthAdjust="spacingAndGlyphs" stroke="#000" stroke-width="0.3" >Ventricle (combined)</text>
<text x="112.9" y="269.2" font-size="22.8" font-weight="bold" fill="#000" text-anchor="start" textLength="20.1" lengthAdjust="spacingAndGlyphs" stroke="#000" stroke-width="0.3" >B)</text>
<rect x="108.3" y="986.3" width="12.6" height="22.0" fill="#00008c" stroke="#000060" stroke-width="0.9"/>
<rect x="123.8" y="962.6" width="12.6" height="45.7" fill="#88f87c" stroke="#5a9a5a" stroke-width="0.9"/>
<rect x="139.3" y="940.5" width="12.6" height="67.8" fill="#800000" stroke="#4a0000" stroke-width="0.9"/>
<text x="130.1" y="1025.6" font-size="15.2" font-weight="bold" fill="#111" text-anchor="middle" >RA</text>
<rect x="177.5" y="972.4" width="12.6" height="35.9" fill="#00008c" stroke="#000060" stroke-width="0.9"/>
<rect x="193.0" y="950.6" width="12.6" height="57.7" fill="#88f87c" stroke="#5a9a5a" stroke-width="0.9"/>
<rect x="208.5" y="914.4" width="12.6" height="93.9" fill="#800000" stroke="#4a0000" stroke-width="0.9"/>
<text x="199.3" y="1025.6" font-size="15.2" font-weight="bold" fill="#111" text-anchor="middle" >LA</text>
<rect x="246.6" y="963.4" width="12.6" height="44.9" fill="#00008c" stroke="#000060" stroke-width="0.9"/>
<rect x="262.1" y="983.2" width="12.6" height="25.1" fill="#88f87c" stroke="#5a9a5a" stroke-width="0.9"/>
<rect x="277.6" y="938.6" width="12.6" height="69.7" fill="#800000" stroke="#4a0000" stroke-width="0.9"/>
<text x="268.4" y="1025.6" font-size="15.2" font-weight="bold" fill="#111" text-anchor="middle" >LV</text>
<rect x="315.8" y="974.6" width="12.6" height="33.7" fill="#00008c" stroke="#000060" stroke-width="0.9"/>
<rect x="331.3" y="982.3" width="12.6" height="26.0" fill="#88f87c" stroke="#5a9a5a" stroke-width="0.9"/>
<rect x="346.8" y="949.2" width="12.6" height="59.1" fill="#800000" stroke="#4a0000" stroke-width="0.9"/>
<text x="337.6" y="1025.6" font-size="15.2" font-weight="bold" fill="#111" text-anchor="middle" >RV</text>
<rect x="385.0" y="949.9" width="12.6" height="58.4" fill="#00008c" stroke="#000060" stroke-width="0.9"/>
<rect x="400.5" y="904.5" width="12.6" height="103.8" fill="#88f87c" stroke="#5a9a5a" stroke-width="0.9"/>
<rect x="416.0" y="846.1" width="12.6" height="162.2" fill="#800000" stroke="#4a0000" stroke-width="0.9"/>
<text x="406.8" y="1025.6" font-size="15.2" font-weight="bold" fill="#111" text-anchor="middle" >A</text>
<rect x="454.2" y="930.6" width="12.6" height="77.7" fill="#00008c" stroke="#000060" stroke-width="0.9"/>
<rect x="469.7" y="957.1" width="12.6" height="51.2" fill="#88f87c" stroke="#5a9a5a" stroke-width="0.9"/>
<rect x="485.2" y="880.1" width="12.6" height="128.2" fill="#800000" stroke="#4a0000" stroke-width="0.9"/>
<text x="476.0" y="1025.6" font-size="15.2" font-weight="bold" fill="#111" text-anchor="middle" >V</text>
<rect x="523.3" y="1003.2" width="12.6" height="5.1" fill="#00008c" stroke="#000060" stroke-width="0.9"/>
<rect x="538.8" y="1004.5" width="12.6" height="3.8" fill="#88f87c" stroke="#5a9a5a" stroke-width="0.9"/>
<rect x="554.3" y="1000.3" width="12.6" height="8.0" fill="#800000" stroke="#4a0000" stroke-width="0.9"/>
<text x="545.1" y="1025.6" font-size="15.2" font-weight="bold" fill="#111" text-anchor="middle" >RA.a</text>
<rect x="592.5" y="994.2" width="12.6" height="14.1" fill="#00008c" stroke="#000060" stroke-width="0.9"/>
<rect x="608.0" y="999.1" width="12.6" height="9.2" fill="#88f87c" stroke="#5a9a5a" stroke-width="0.9"/>
<rect x="623.5" y="985.1" width="12.6" height="23.2" fill="#800000" stroke="#4a0000" stroke-width="0.9"/>
<text x="614.3" y="1025.6" font-size="15.2" font-weight="bold" fill="#111" text-anchor="middle" >LA.a</text>
<path d="M114.6,998.5 V973.2 M110.1,973.2 h9 M110.1,998.5 h9 M130.1,979.7 V945.7 M125.6,945.7 h9 M125.6,979.7 h9 M145.6,965.0 V914.9 M141.1,914.9 h9 M141.1,965.0 h9 M183.8,991.3 V952.7 M179.3,952.7 h9 M179.3,991.3 h9 M199.3,983.2 V918.1 M194.8,918.1 h9 M194.8,983.2 h9 M214.8,964.0 V865.3 M210.3,865.3 h9 M210.3,964.0 h9 M252.9,984.3 V942.5 M248.4,942.5 h9 M248.4,984.3 h9 M268.4,994.1 V972.5 M263.9,972.5 h9 M263.9,994.1 h9 M283.9,968.6 V909.0 M279.4,909.0 h9 M279.4,968.6 h9 M322.1,993.5 V955.5 M317.6,955.5 h9 M317.6,993.5 h9 M337.6,991.8 V972.8 M333.1,972.8 h9 M333.1,991.8 h9 M353.1,971.9 V926.7 M348.6,926.7 h9 M348.6,971.9 h9 M391.3,977.1 V921.3 M386.8,921.3 h9 M386.8,977.1 h9 M406.8,949.9 V859.4 M402.3,859.4 h9 M402.3,949.9 h9 M422.3,916.9 V775.4 M417.8,775.4 h9 M417.8,916.9 h9 M460.5,967.3 V893.3 M456.0,893.3 h9 M456.0,967.3 h9 M476.0,976.4 V938.7 M471.5,938.7 h9 M471.5,976.4 h9 M491.5,928.3 V831.5 M487.0,831.5 h9 M487.0,928.3 h9 M529.6,1006.9 V999.1 M525.1,999.1 h9 M525.1,1006.9 h9 M545.1,1007.7 V1000.7 M540.6,1000.7 h9 M540.6,1007.7 h9 M560.6,1005.5 V993.5 M556.1,993.5 h9 M556.1,1005.5 h9 M598.8,1000.3 V987.7 M594.3,987.7 h9 M594.3,1000.3 h9 M614.3,1001.4 V996.1 M609.8,996.1 h9 M609.8,1001.4 h9 M629.8,993.5 V976.4 M625.3,976.4 h9 M625.3,993.5 h9 " stroke="#111" stroke-width="1.75" fill="none"/>
<path d="M61.2,712.8 V1008.3 H683.5 M61.2,1008.3 h5.5 M61.2,949.2 h5.5 M61.2,890.1 h5.5 M61.2,831.0 h5.5 M61.2,771.9 h5.5 M61.2,712.8 h5.5 " stroke="#333" stroke-width="1.6" fill="none"/>
<text x="57.8" y="1014.3" font-size="16.2" font-weight="bold" fill="#111" text-anchor="end" >0</text>
<text x="57.8" y="955.2" font-size="16.2" font-weight="bold" fill="#111" text-anchor="end" >0.5</text>
<text x="57.8" y="896.1" font-size="16.2" font-weight="bold" fill="#111" text-anchor="end" >1</text>
<text x="57.8" y="837.0" font-size="16.2" font-weight="bold" fill="#111" text-anchor="end" >1.5</text>
<text x="57.8" y="777.9" font-size="16.2" font-weight="bold" fill="#111" text-anchor="end" >2</text>
<text x="57.8" y="718.8" font-size="16.2" font-weight="bold" fill="#111" text-anchor="end" >2.5</text>
<path d="M106.8,887.9 V883.5 H181.6 V887.9" stroke="#333" stroke-width="1.5" fill="none" stroke-linejoin="round"/>
<path d="M144.5,871.7 L144.5,881.7 M140.2,874.2 L148.8,879.2 M148.8,874.2 L140.2,879.2 " stroke="#111" stroke-width="1.9" fill="none"/>
<path d="M247.0,885.0 V880.2 H322.0 V885.0" stroke="#333" stroke-width="1.5" fill="none" stroke-linejoin="round"/>
<path d="M285.5,868.8 L285.5,878.8 M281.2,871.3 L289.8,876.3 M289.8,871.3 L281.2,876.3 " stroke="#111" stroke-width="1.9" fill="none"/>
<path d="M384.1,764.9 V759.9 H455.9 V764.9" stroke="#333" stroke-width="1.5" fill="none" stroke-linejoin="round"/>
<path d="M422.6,748.8 L422.6,758.8 M418.3,751.3 L426.9,756.3 M426.9,751.3 L418.3,756.3 " stroke="#111" stroke-width="1.9" fill="none"/>
<text x="227.3" y="727.0" font-size="16.6" font-weight="bold" fill="#111">Volumes of cardiac structures (mm<tspan font-size="11.5" dy="-8">3</tspan><tspan dy="8">)</tspan></text>
<rect x="513.6" y="696.6" width="3.2" height="1.3" fill="#555"/>
<rect x="537.3" y="716.3" width="143" height="63.8" fill="#fff" stroke="#777" stroke-width="1"/>
<rect x="541.3" y="720.2" width="20.7" height="15.4" fill="#00008c" stroke="#333" stroke-width="0.8"/>
<text x="564.3" y="733.7" font-size="16.2" font-weight="bold" fill="#111" text-anchor="start" >Stroke volume</text>
<rect x="541.3" y="740.5" width="20.7" height="15.4" fill="#88f87c" stroke="#333" stroke-width="0.8"/>
<text x="564.3" y="754.2" font-size="16.2" font-weight="bold" fill="#111" text-anchor="start" >Min volume</text>
<rect x="541.3" y="760.8" width="20.7" height="15.4" fill="#800000" stroke="#333" stroke-width="0.8"/>
<text x="564.3" y="774.3" font-size="16.2" font-weight="bold" fill="#111" text-anchor="start" >Max volume</text>
<text x="2.6" y="725.4" font-size="23.3" font-weight="bold" fill="#000" text-anchor="start" textLength="21.9" lengthAdjust="spacingAndGlyphs" stroke="#000" stroke-width="0.3" >C)</text>
<rect x="121.3" y="1074.0" width="470.5" height="128.1" fill="none" stroke="#000" stroke-width="2.2"/>
<path d="M215.4,1074.0 v4.5 M215.4,1202.1 v-4.5 M309.5,1074.0 v4.5 M309.5,1202.1 v-4.5 M403.6,1074.0 v4.5 M403.6,1202.1 v-4.5 M497.7,1074.0 v4.5 M497.7,1202.1 v-4.5 " stroke="#000" stroke-width="2"/>
<text x="121.8" y="1220.6" font-size="17.6" font-weight="bold" fill="#000" text-anchor="middle" >0</text>
<text x="215.4" y="1220.6" font-size="17.6" font-weight="bold" fill="#000" text-anchor="middle" >0.2</text>
<text x="309.5" y="1220.6" font-size="17.6" font-weight="bold" fill="#000" text-anchor="middle" >0.4</text>
<text x="403.6" y="1220.6" font-size="17.6" font-weight="bold" fill="#000" text-anchor="middle" >0.6</text>
<text x="497.7" y="1220.6" font-size="17.6" font-weight="bold" fill="#000" text-anchor="middle" >0.8</text>
<text x="591.8" y="1220.6" font-size="17.6" font-weight="bold" fill="#000" text-anchor="middle" >1</text>
<text x="355.2" y="1063.5" font-size="23.6" font-weight="bold" fill="#0a0a0a" text-anchor="middle" >ejection fraction</text>
<path d="M380.3,1095.3 H382.5 M424.6,1095.3 H439.7" stroke="#111" stroke-width="1" stroke-dasharray="3,2" fill="none"/>
<path d="M380.3,1087.3 V1103.3 M439.7,1087.3 V1103.3" stroke="#111" stroke-width="1.2" fill="none"/>
<rect x="382.5" y="1078.0" width="42.1" height="34.4" fill="none" stroke="#2424c0" stroke-width="1.3"/>
<path d="M392.8,1078.7 V1111.7" stroke="#cc3a3a" stroke-width="1.5"/>
<path d="M337.6,1138.4 H373.2 M409.2,1138.4 H412.4" stroke="#111" stroke-width="1" stroke-dasharray="3,2" fill="none"/>
<path d="M337.6,1130.4 V1146.4 M412.4,1130.4 V1146.4" stroke="#111" stroke-width="1.2" fill="none"/>
<rect x="373.2" y="1121.0" width="36.0" height="34.7" fill="none" stroke="#2424c0" stroke-width="1.3"/>
<path d="M399.2,1121.7 V1155.0" stroke="#cc3a3a" stroke-width="1.5"/>
<path d="M247.5,1181.4 H266.1 M313.6,1181.4 H334.7" stroke="#111" stroke-width="1" stroke-dasharray="3,2" fill="none"/>
<path d="M247.5,1173.4 V1189.4 M334.7,1173.4 V1189.4" stroke="#111" stroke-width="1.2" fill="none"/>
<rect x="266.1" y="1164.1" width="47.5" height="35.0" fill="none" stroke="#2424c0" stroke-width="1.3"/>
<path d="M287.0,1164.8 V1198.3999999999999" stroke="#cc3a3a" stroke-width="1.5"/>
<circle cx="311.4" cy="1095.3" r="1.3" fill="#e02020"/>
<circle cx="495.0" cy="1138.4" r="1.3" fill="#e02020"/>
<text x="129.3" y="1107.7" font-size="17.6" font-weight="bold" fill="#000" text-anchor="start" textLength="138.3" lengthAdjust="spacingAndGlyphs" stroke="#000" stroke-width="0.3" >Atria appendages</text>
<text x="126.6" y="1146.9" font-size="17.6" font-weight="bold" fill="#000" text-anchor="start" textLength="69.6" lengthAdjust="spacingAndGlyphs" stroke="#000" stroke-width="0.3" >Ventricle</text>
<text x="126.1" y="1188.8" font-size="17.6" font-weight="bold" fill="#000" text-anchor="start" textLength="37.5" lengthAdjust="spacingAndGlyphs" stroke="#000" stroke-width="0.3" >Atria</text>
<text x="60.2" y="1098.6" font-size="22.3" font-weight="bold" fill="#000" text-anchor="start" textLength="21.6" lengthAdjust="spacingAndGlyphs" stroke="#000" stroke-width="0.3" >D)</text>
<path d="M507.2,1139.4 H511.4 V1186.2 H507.2" stroke="#222" stroke-width="1.3" fill="none"/>
<path d="M547.8,1095.5 H552.2 V1187.7 H547.8" stroke="#222" stroke-width="1.3" fill="none"/>
<path d="M518.9,1155.6 L518.9,1165.4 M514.7,1158.0 L523.1,1163.0 M523.1,1158.0 L514.7,1163.0 " stroke="#111" stroke-width="1.7" fill="none"/>
<path d="M532.0,1155.6 L532.0,1165.4 M527.8,1158.0 L536.2,1163.0 M536.2,1158.0 L527.8,1163.0 " stroke="#111" stroke-width="1.7" fill="none"/>
<path d="M558.0,1132.1 L558.0,1141.9 M553.8,1134.5 L562.2,1139.5 M562.2,1134.5 L553.8,1139.5 " stroke="#111" stroke-width="1.7" fill="none"/>
<path d="M571.2,1132.1 L571.2,1141.9 M567.0,1134.5 L575.4,1139.5 M575.4,1134.5 L567.0,1139.5 " stroke="#111" stroke-width="1.7" fill="none"/>
</g>
</svg>
</body></html>
